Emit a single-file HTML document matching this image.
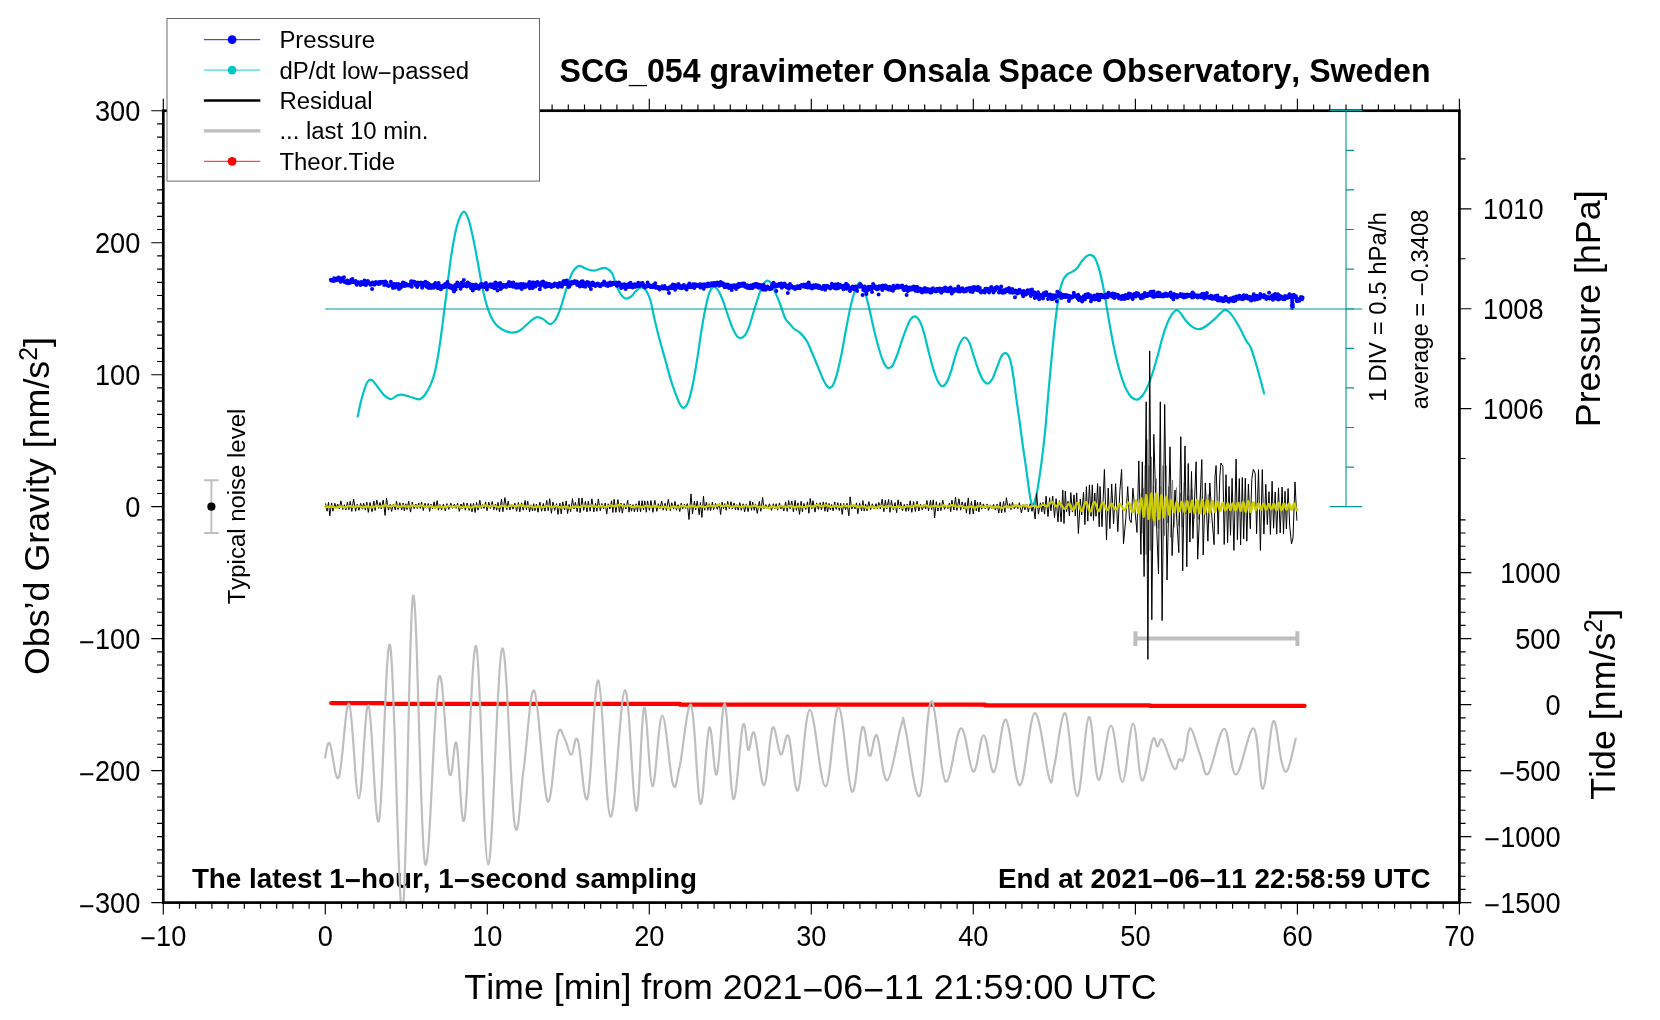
<!DOCTYPE html>
<html><head><meta charset="utf-8"><title>SCG_054 gravimeter</title>
<style>html,body{margin:0;padding:0;background:#fff}body{width:1660px;height:1020px;overflow:hidden}svg{display:block;will-change:transform}text{font-family:"Liberation Sans",sans-serif;fill:#000;font-kerning:none}</style>
</head><body>
<svg width="1660" height="1020" viewBox="0 0 1660 1020">
<rect width="1660" height="1020" fill="#fff"/>
<defs><clipPath id="pc"><rect x="163.3" y="110.7" width="1296.1" height="791.9"/></clipPath></defs>
<text x="191.9" y="887.8" font-size="27.8" font-weight="bold">The latest 1<tspan dy="2.22">−</tspan><tspan dy="-2.22">hour, 1</tspan><tspan dy="2.22">−</tspan><tspan dy="-2.22">second sampling</tspan></text>
<text x="1430.6" y="887.8" font-size="27.8" font-weight="bold" text-anchor="end">End at 2021<tspan dy="2.22">−</tspan><tspan dy="-2.22">06</tspan><tspan dy="2.22">−</tspan><tspan dy="-2.22">11 22:58:59 UTC</tspan></text>
<path d="M357.7,416.5C358.2,414.2 359.6,407.2 360.6,402.9C361.7,398.6 362.9,393.9 364,390.5C365.1,387.1 366.2,384 367.3,382.2C368.4,380.4 369.6,379.7 370.7,379.7C371.8,379.7 372.8,380.8 374.1,382.2C375.4,383.6 376.9,386.1 378.6,388.3C380.3,390.5 382.2,393.5 384.3,395.3C386.4,397.1 388.9,399 391,399.1C393.1,399.2 394.8,396.4 396.7,395.7C398.6,394.9 400.1,394.4 402.3,394.6C404.6,394.8 407.4,396 410.2,396.8C413,397.6 416.8,399.6 419.2,399.3C421.6,399 422.9,397.4 424.8,395C426.7,392.6 428.8,388.8 430.5,384.9C432.2,381 433.5,377.8 435,371.4C436.5,365 438,356.4 439.5,346.6C441,336.8 442.7,322.9 444,312.7C445.3,302.5 446.3,294.7 447.4,285.7C448.5,276.7 449.6,266.9 450.8,258.6C452,250.3 453.3,242.5 454.6,236.1C455.9,229.7 457.1,224.4 458.7,220.3C460.2,216.2 462.3,211.9 463.9,211.7C465.5,211.5 467,215.5 468.4,219.2C469.8,222.9 470.8,227.6 472.2,233.8C473.6,240 475.2,248.5 476.7,256.4C478.2,264.3 479.7,273.7 481.2,281.2C482.7,288.7 484.2,295.9 485.7,301.5C487.2,307.1 488.5,311.2 490.2,315C491.9,318.8 493.8,322.1 495.9,324.5C498,326.9 500,328.3 502.6,329.7C505.2,331.1 508.9,332.4 511.7,332.6C514.5,332.8 516.9,332.2 519.5,330.8C522.1,329.4 525.1,325.9 527.4,324C529.7,322.1 531.4,320.2 533.1,319.1C534.8,318 535.9,317.2 537.6,317.2C539.3,317.2 541.5,318.2 543.2,319.1C544.9,320.1 546.4,322.1 547.7,322.9C549,323.7 549.8,324.6 551.1,324C552.4,323.4 554.1,321.9 555.6,319.5C557.1,317.1 558.6,313.5 560.1,309.4C561.6,305.3 563.1,299.6 564.6,294.7C566.1,289.8 567.7,284.1 569.2,280C570.7,275.9 572,272.8 573.7,270.4C575.4,268 577.2,266.1 579.3,265.8C581.4,265.5 583.6,268 586.1,268.8C588.6,269.6 591.4,270.7 594,270.6C596.6,270.5 599.8,268.7 601.9,268.3C604,267.9 604.7,267.5 606.4,268.3C608.1,269.1 610.3,270.4 612,273.3C613.7,276.2 615,282.1 616.5,285.7C618,289.3 619.5,292.6 621,294.7C622.5,296.8 623.8,298.2 625.5,298.5C627.2,298.8 629.5,297.7 631.2,296.5C632.9,295.3 634,292.8 635.7,291.3C637.4,289.8 639.6,287.7 641.3,287.5C643,287.3 644.3,288.1 645.8,290.2C647.3,292.3 648.8,295.1 650.3,300C651.8,304.9 653.1,313.2 654.6,319.5C656.1,325.8 657.3,331.1 659,337.5C660.7,343.9 662.8,351 664.7,357.8C666.6,364.6 668.6,372.5 670.3,378.1C672,383.8 673.3,387.6 674.8,391.7C676.3,395.8 677.9,400.2 679.3,402.9C680.7,405.6 682.1,407.7 683.4,407.9C684.7,408.1 686,406.4 687.2,404.1C688.4,401.8 689.5,398.2 690.6,393.9C691.7,389.6 692.9,384.1 694,378.1C695.1,372.1 696.3,364.9 697.4,357.8C698.5,350.7 699.6,342.4 700.7,335.3C701.8,328.2 703,321 704.1,315C705.2,309 706.5,303.3 707.5,299.2C708.5,295.1 709.3,292.3 710.4,290.2C711.5,288.1 712.9,286.6 714.3,286.8C715.7,287 717.3,288.9 718.8,291.3C720.3,293.8 721.8,297.6 723.3,301.5C724.8,305.4 726.3,310.7 727.8,315C729.3,319.3 730.8,323.9 732.3,327.4C733.8,330.9 735.4,334.2 736.8,336C738.2,337.8 739.3,338.1 740.6,338C741.9,337.9 743.3,337.6 744.7,335.7C746.1,333.8 747.7,330.3 749.2,326.3C750.7,322.3 752.2,316.5 753.7,311.6C755.2,306.7 756.7,301.3 758.2,297C759.7,292.7 761.2,288.4 762.7,285.7C764.2,283 765.7,280.9 767.2,280.7C768.7,280.5 770.3,282.3 771.8,284.6C773.3,286.9 774.8,291.1 776.3,294.7C777.8,298.3 779.3,302.1 780.8,306C782.3,309.9 783.8,315.4 785.3,318.4C786.8,321.4 788.3,322.2 789.8,324C791.3,325.8 792.6,327.6 794.3,329C796,330.4 797.8,330.6 799.9,332.6C802,334.6 804.6,337.4 806.7,340.9C808.8,344.3 810.4,349 812.3,353.3C814.2,357.6 816.1,362.4 818,366.9C819.9,371.4 822.1,377.2 823.6,380.4C825.1,383.6 826,384.8 827,386C828,387.2 828.7,388 829.7,387.8C830.7,387.6 831.9,387.3 833.1,384.9C834.3,382.5 835.7,378.9 837.1,373.6C838.5,368.3 840.2,360.8 841.7,353.3C843.2,345.8 844.7,336.4 846.2,328.5C847.7,320.6 849.2,312.4 850.7,306C852.2,299.6 853.7,294.1 855.2,290.2C856.7,286.2 858.2,282.3 859.7,282.3C861.2,282.3 862.7,286.2 864.2,290.2C865.7,294.1 867.2,300 868.7,306C870.2,312 871.7,319.9 873.2,326.3C874.7,332.7 876.2,338.9 877.7,344.3C879.2,349.8 880.8,355.2 882.2,359C883.6,362.8 885.2,365.4 886.3,366.9C887.4,368.4 888,368.2 889,368C890,367.8 891.1,367.8 892.4,365.7C893.7,363.6 895.4,359.5 896.9,355.6C898.4,351.7 899.9,346.4 901.4,342.1C902.9,337.8 904.4,333.5 905.9,329.7C907.4,325.9 908.9,321.7 910.4,319.5C911.9,317.3 913.4,316.1 914.9,316.3C916.4,316.5 917.9,317.8 919.4,320.6C920.9,323.4 922.5,327.9 924,333C925.5,338.1 927,345.3 928.5,351.1C930,356.9 931.5,363.1 933,368C934.5,372.9 936,377.4 937.5,380.4C939,383.4 940.5,385.8 942,386.2C943.5,386.6 945,385.1 946.5,382.6C948,380.1 949.5,375.9 951,371.4C952.5,366.9 954,360.3 955.5,355.6C957,350.9 958.5,346.2 960,343.2C961.5,340.2 963,337.7 964.5,337.5C966,337.3 967.6,339.1 969.1,342.1C970.6,345.1 972.1,351.1 973.6,355.6C975.1,360.1 976.6,365.2 978.1,369.1C979.6,373.1 981,376.9 982.6,379.3C984.2,381.7 985.9,383.7 987.5,383.6C989.1,383.5 990.8,381.5 992.4,378.8C994,376.1 995.4,371.2 996.9,367.5C998.4,363.8 1000,358.7 1001.4,356.3C1002.8,353.9 1004.2,352.9 1005.5,353.1C1006.8,353.3 1008.1,354.2 1009.3,357.4C1010.5,360.5 1011.6,365.4 1012.7,372C1013.8,378.6 1015,388.9 1016.1,396.9C1017.2,404.9 1018.3,411.9 1019.4,420C1020.5,428.1 1021.8,438.4 1022.8,445.5C1023.8,452.6 1024.1,454.2 1025.3,462.4C1026.5,470.6 1028.7,487.9 1029.7,494.7C1030.7,501.5 1031,501.1 1031.5,503C1032,504.9 1032.3,506 1032.8,506C1033.2,506 1033.5,505.4 1034.2,503C1034.9,500.6 1035.9,498.6 1037.1,491.8C1038.3,485 1040.1,473 1041.5,462.4C1042.9,451.8 1044.2,440.8 1045.4,428.4C1046.6,416 1047.7,400.6 1048.8,387.8C1049.9,375 1051.1,363.1 1052.2,351.8C1053.3,340.5 1054.4,329.6 1055.5,320.2C1056.6,310.8 1057.8,301.8 1058.9,295.4C1060,289 1061,285.4 1062.3,281.9C1063.6,278.4 1065.1,276.3 1066.8,274.6C1068.5,272.9 1070.7,272.8 1072.4,271.7C1074.1,270.6 1075.5,270 1077,268.3C1078.5,266.6 1080,263.6 1081.5,261.6C1083,259.7 1084.5,257.7 1086,256.6C1087.5,255.5 1089,254.5 1090.5,254.8C1092,255.1 1093.5,255.6 1095,258.2C1096.5,260.8 1098,265.2 1099.5,270.6C1101,276.1 1102.5,283 1104,290.9C1105.5,298.8 1107,309.3 1108.5,317.9C1110,326.5 1111.5,335.2 1113,342.7C1114.5,350.2 1116,357 1117.5,363C1119,369 1120.6,374.3 1122.1,378.8C1123.6,383.3 1125.1,387.1 1126.6,390.1C1128.1,393.1 1129.4,395.3 1131.1,396.9C1132.8,398.5 1134.8,399.8 1136.7,399.6C1138.6,399.4 1140.4,398 1142.3,395.7C1144.2,393.4 1146.1,389.9 1148,385.6C1149.9,381.3 1151.9,375.1 1153.6,369.8C1155.3,364.5 1156.6,359.4 1158.1,354C1159.6,348.6 1161.1,342.2 1162.6,337.1C1164.1,332 1165.6,327.4 1167.1,323.6C1168.6,319.9 1170.1,316.9 1171.7,314.6C1173.3,312.3 1175.1,310.2 1176.6,310C1178.1,309.8 1179.1,311.5 1180.7,313.4C1182.3,315.3 1184.2,319 1186.3,321.3C1188.4,323.6 1190.9,326.1 1193.1,327.4C1195.2,328.7 1197.1,329.3 1199.2,329.2C1201.3,329.1 1203,328.2 1205.5,326.5C1208,324.8 1211.9,321.5 1214.5,319.1C1217.1,316.7 1219.4,313.8 1221.3,312.3C1223.2,310.8 1224.1,309.6 1225.8,310C1227.5,310.4 1229.2,311.8 1231.4,314.6C1233.7,317.4 1236.8,322.7 1239.3,327C1241.8,331.3 1244.2,337.1 1246.1,340.5C1248,343.9 1249.1,343.8 1250.6,347.2C1252.1,350.6 1253.6,355.9 1255.1,360.8C1256.6,365.7 1258.1,371.2 1259.6,376.6C1261.1,382.1 1263.3,390.7 1264.1,393.5" fill="none" stroke="#00c3c3" stroke-width="2.2" stroke-linejoin="round" stroke-linecap="round"/>
<path d="M330.8,279.8h0M331.4,280.4h0M331.9,280.7h0M332.5,280.2h0M333,280.3h0M333.6,281.1h0M334.1,278.3h0M334.7,280.6h0M335.2,280.5h0M335.8,279.3h0M336.3,278.7h0M336.9,280h0M337.4,278.4h0M338,278.5h0M338.5,277.6h0M339.1,278.5h0M339.6,278.4h0M340.2,280.9h0M340.7,281.7h0M341.3,278.3h0M341.8,279.9h0M342.4,279.4h0M342.9,278.5h0M343.5,280.8h0M344,277.2h0M344.6,281.9h0M345.1,281.6h0M345.7,282h0M346.2,282.8h0M346.8,281.9h0M347.3,280.6h0M347.9,280.9h0M348.4,283.2h0M349,282.1h0M349.5,283h0M350.1,281.7h0M350.6,282.5h0M351.2,279.7h0M351.7,280.8h0M352.3,278.9h0M352.8,282h0M353.4,280.9h0M353.9,282.1h0M354.5,281.5h0M355,282.6h0M355.6,281.1h0M356.1,283.6h0M356.7,284.8h0M357.2,282.7h0M357.8,283.5h0M358.3,282.2h0M358.9,282.8h0M359.4,283h0M360,283.6h0M360.5,285h0M361.1,282.1h0M361.6,284.2h0M362.2,284h0M362.7,282.4h0M363.3,283.6h0M363.8,284.2h0M364.4,280.4h0M364.9,283.1h0M365.5,284.9h0M366,285h0M366.6,283.2h0M367.1,282.1h0M367.7,280.9h0M368.2,281.8h0M368.8,282.2h0M369.3,283.5h0M369.9,283.6h0M370.4,284.8h0M371,283.6h0M371.5,284.5h0M372.1,289h0M372.6,282.6h0M373.2,284h0M373.7,283.9h0M374.3,284.7h0M374.8,283.1h0M375.4,283.6h0M375.9,282.1h0M376.5,282.3h0M377,283.1h0M377.6,283.8h0M378.1,283.3h0M378.7,284.1h0M379.2,282.1h0M379.8,283.8h0M380.3,282.1h0M380.9,282h0M381.4,282.2h0M382,282.2h0M382.5,281.8h0M383.1,282.6h0M383.6,282.9h0M384.2,285h0M384.7,284.5h0M385.3,281.4h0M385.8,282h0M386.4,282.4h0M386.9,284.6h0M387.5,285.5h0M388,285.5h0M388.6,285.9h0M389.1,285.5h0M389.7,285.6h0M390.2,285h0M390.8,281.8h0M391.3,285.4h0M391.9,285.5h0M392.4,284.1h0M393,288.1h0M393.5,285h0M394.1,283.9h0M394.6,284.9h0M395.2,287.4h0M395.7,285.1h0M396.3,284h0M396.8,286.4h0M397.4,285.8h0M397.9,286.3h0M398.5,284.1h0M399,289h0M399.6,286h0M400.1,287.2h0M400.7,287.8h0M401.2,285.3h0M401.8,284.3h0M402.3,285.9h0M402.9,282.6h0M403.4,284.1h0M404,282.9h0M404.5,285.9h0M405.1,283.5h0M405.6,285.7h0M406.2,284.3h0M406.7,284.3h0M407.3,284.7h0M407.8,285.3h0M408.4,284.9h0M408.9,285.3h0M409.5,285.3h0M410,285.8h0M410.6,283.7h0M411.1,281.3h0M411.7,286.8h0M412.2,281.6h0M412.8,281.7h0M413.3,281.7h0M413.9,283.3h0M414.4,281.7h0M415,283.4h0M415.5,285h0M416.1,285h0M416.6,283.3h0M417.2,286.9h0M417.7,282.4h0M418.3,283.6h0M418.8,284.6h0M419.4,283.3h0M419.9,284.5h0M420.5,284.4h0M421,282.5h0M421.6,284.9h0M422.1,287.8h0M422.7,286h0M423.2,283h0M423.8,284h0M424.3,283.5h0M424.9,284.2h0M425.4,281.8h0M426,285.8h0M426.5,286.8h0M427.1,283.6h0M427.6,283h0M428.2,283.5h0M428.7,288h0M429.3,284.5h0M429.8,285.1h0M430.4,285.1h0M430.9,287.9h0M431.5,285.5h0M432,287.8h0M432.6,285.7h0M433.1,285.1h0M433.7,287.8h0M434.2,286.4h0M434.8,286.5h0M435.3,282.9h0M435.9,284.7h0M436.4,286.7h0M437,284.2h0M437.5,288h0M438.1,286.8h0M438.6,282.9h0M439.2,285.3h0M439.7,286.5h0M440.3,289h0M440.8,289.2h0M441.4,286.4h0M441.9,287.1h0M442.5,287.4h0M443,285.5h0M443.6,287.2h0M444.1,286.6h0M444.7,286.3h0M445.2,283.9h0M445.8,286.7h0M446.3,285.8h0M446.9,284.7h0M447.4,282.1h0M448,284.8h0M448.5,284.6h0M449.1,285.9h0M449.6,287.6h0M450.2,286.2h0M450.7,285.4h0M451.3,288.1h0M451.8,287h0M452.4,288.7h0M452.9,287.1h0M453.5,286.6h0M454,291.5h0M454.6,286.5h0M455.1,285.1h0M455.7,289.3h0M456.2,286.2h0M456.8,284.5h0M457.3,282.6h0M457.9,285.9h0M458.4,284.8h0M459,284h0M459.5,285.7h0M460.1,286.8h0M460.6,288.7h0M461.2,286.6h0M461.7,282.4h0M462.3,285.5h0M462.8,285.5h0M463.4,286.1h0M463.9,279.9h0M464.5,285.1h0M465,284.1h0M465.6,285.1h0M466.1,284.5h0M466.7,286.5h0M467.2,284.1h0M467.8,282.6h0M468.3,285.8h0M468.9,285.2h0M469.4,285.5h0M470,284h0M470.5,286.2h0M471.1,288.2h0M471.6,286.7h0M472.2,284.8h0M472.7,290.6h0M473.3,285h0M473.8,286.3h0M474.4,286.3h0M474.9,288.4h0M475.5,286.8h0M476,284.5h0M476.6,285.7h0M477.1,287.6h0M477.7,288.1h0M478.2,286.2h0M478.8,288.7h0M479.3,285.7h0M479.9,287h0M480.4,286.1h0M481,283.9h0M481.5,284.1h0M482.1,284.9h0M482.6,286.8h0M483.2,286.3h0M483.7,284.6h0M484.3,287h0M484.8,287.1h0M485.4,285h0M485.9,283.1h0M486.5,286h0M487,289.4h0M487.6,285.9h0M488.1,286.3h0M488.7,285.9h0M489.2,285.2h0M489.8,286.6h0M490.3,284.2h0M490.9,285.8h0M491.4,286.9h0M492,284.4h0M492.5,287h0M493.1,285.6h0M493.6,284.5h0M494.2,288.3h0M494.7,284.4h0M495.3,282.6h0M495.8,288.1h0M496.4,287.1h0M496.9,285.8h0M497.5,290.4h0M498,283.6h0M498.6,284.5h0M499.1,286.4h0M499.7,285.5h0M500.2,282.9h0M500.8,289h0M501.3,286.5h0M501.9,287.4h0M502.4,284.9h0M503,286.9h0M503.5,285h0M504.1,286.1h0M504.6,286.1h0M505.2,285.3h0M505.7,285.1h0M506.3,287.1h0M506.8,284.7h0M507.4,284.4h0M507.9,285h0M508.5,283.2h0M509,282.1h0M509.6,286h0M510.1,286h0M510.7,285.1h0M511.2,284h0M511.8,283h0M512.3,284.1h0M512.9,286.8h0M513.4,282.4h0M514,285.1h0M514.5,285.1h0M515.1,285.4h0M515.6,284.8h0M516.2,287.7h0M516.7,284.3h0M517.3,285.9h0M517.8,284.8h0M518.4,284.5h0M518.9,287.6h0M519.5,284.6h0M520,284.2h0M520.6,285h0M521.1,284.1h0M521.7,288.9h0M522.2,286.2h0M522.8,286.7h0M523.3,284.1h0M523.9,285.4h0M524.4,285.6h0M525,287.2h0M525.5,284.5h0M526.1,286.7h0M526.6,285.3h0M527.2,285.8h0M527.7,284.3h0M528.3,284.6h0M528.8,285.3h0M529.4,282h0M529.9,288.3h0M530.5,283.1h0M531,283.7h0M531.6,285.7h0M532.1,282.4h0M532.7,288h0M533.2,283.7h0M533.8,282.6h0M534.3,283.1h0M534.9,284.3h0M535.4,286.6h0M536,282.7h0M536.5,284.2h0M537.1,284.4h0M537.6,282.1h0M538.2,283.1h0M538.7,284.3h0M539.3,285.3h0M539.8,289.2h0M540.4,286.1h0M540.9,282.9h0M541.5,284.8h0M542,282.1h0M542.6,284h0M543.1,281.5h0M543.7,282.3h0M544.2,285.9h0M544.8,284h0M545.3,287.1h0M545.9,285.5h0M546.4,283.3h0M547,284.5h0M547.5,286.2h0M548.1,284.2h0M548.6,283.9h0M549.2,286.1h0M549.7,283.9h0M550.3,284.4h0M550.8,286.4h0M551.4,287.1h0M551.9,286.4h0M552.5,284.8h0M553,286h0M553.6,285.9h0M554.1,286.1h0M554.7,283.5h0M555.2,284.7h0M555.8,285.2h0M556.3,285h0M556.9,284.4h0M557.4,284h0M557.9,287h0M558.5,286.1h0M559,285.9h0M559.6,282.9h0M560.1,283.6h0M560.7,285.5h0M561.2,283.8h0M561.8,286.7h0M562.3,285.2h0M562.9,283.3h0M563.4,281.2h0M564,283.8h0M564.5,281.1h0M565.1,283.2h0M565.6,283.9h0M566.2,283.9h0M566.7,280.6h0M567.3,284.1h0M567.8,283.1h0M568.4,287.1h0M568.9,286.8h0M569.5,286.3h0M570,282.4h0M570.6,283.3h0M571.1,284h0M571.7,282.1h0M572.2,282.6h0M572.8,282.6h0M573.3,283.2h0M573.9,282.6h0M574.4,281.2h0M575,281.2h0M575.5,282.3h0M576.1,283h0M576.6,281.6h0M577.2,285.1h0M577.7,282.6h0M578.3,283.5h0M578.8,282.7h0M579.4,284.1h0M579.9,286.5h0M580.5,284.3h0M581,283.2h0M581.6,281.4h0M582.1,284.1h0M582.7,281.3h0M583.2,286.2h0M583.8,284.4h0M584.3,284.7h0M584.9,283.3h0M585.4,286.7h0M586,284.1h0M586.5,284.6h0M587.1,281.9h0M587.6,284h0M588.2,283.9h0M588.7,282.4h0M589.3,286h0M589.8,283.6h0M590.4,285.8h0M590.9,288.9h0M591.5,285.2h0M592,284h0M592.6,282.6h0M593.1,283.5h0M593.7,283.3h0M594.2,285.3h0M594.8,284.9h0M595.3,286h0M595.9,284.4h0M596.4,284.8h0M597,285.3h0M597.5,283.4h0M598.1,285.1h0M598.6,284.6h0M599.2,284.3h0M599.7,286h0M600.3,286.2h0M600.8,285.2h0M601.4,285h0M601.9,284.8h0M602.5,283.6h0M603,284.7h0M603.6,284.5h0M604.1,281.6h0M604.7,284.7h0M605.2,284.8h0M605.8,283.8h0M606.3,285.4h0M606.9,283.5h0M607.4,284.7h0M608,286.1h0M608.5,283.5h0M609.1,283.9h0M609.6,285.1h0M610.2,282.6h0M610.7,284.9h0M611.3,284.2h0M611.8,284.7h0M612.4,282.9h0M612.9,283.7h0M613.5,282.8h0M614,283.3h0M614.6,284h0M615.1,283.9h0M615.7,283.3h0M616.2,282.6h0M616.8,285.8h0M617.3,285.7h0M617.9,284.4h0M618.4,285h0M619,282.6h0M619.5,284.6h0M620.1,284.2h0M620.6,285.7h0M621.2,288.1h0M621.7,284.6h0M622.3,287.3h0M622.8,286.7h0M623.4,285.5h0M623.9,284.2h0M624.5,285.5h0M625,284.4h0M625.6,289h0M626.1,285.7h0M626.7,285.2h0M627.2,284.7h0M627.8,285.3h0M628.3,284.2h0M628.9,287.1h0M629.4,283.4h0M630,285.7h0M630.5,282.8h0M631.1,286.9h0M631.6,284.6h0M632.2,286.1h0M632.7,287.4h0M633.3,286.8h0M633.8,284.6h0M634.4,286.3h0M634.9,284.2h0M635.5,286.8h0M636,285.2h0M636.6,284.8h0M637.1,286.3h0M637.7,285.2h0M638.2,282.8h0M638.8,284h0M639.3,286.2h0M639.9,283.9h0M640.4,283.4h0M641,283.3h0M641.5,283.9h0M642.1,285.1h0M642.6,283h0M643.2,284.7h0M643.7,286.6h0M644.3,287h0M644.8,287.5h0M645.4,285.8h0M645.9,286.5h0M646.5,285.7h0M647,286.5h0M647.6,282.5h0M648.1,285.9h0M648.7,286h0M649.2,285h0M649.8,285.8h0M650.3,286.1h0M650.9,287.3h0M651.4,285.7h0M652,286.1h0M652.5,286h0M653.1,287.1h0M653.6,285.1h0M654.2,284.5h0M654.7,286.5h0M655.3,283.3h0M655.8,287.7h0M656.4,287h0M656.9,287.6h0M657.5,287.1h0M658,287.1h0M658.6,288.4h0M659.1,287.3h0M659.7,289.4h0M660.2,287.7h0M660.8,288.3h0M661.3,287.3h0M661.9,287.3h0M662.4,286.2h0M663,287.6h0M663.5,288.5h0M664.1,287.5h0M664.6,285.9h0M665.2,288h0M665.7,288.4h0M666.3,287.7h0M666.8,288h0M667.4,288.8h0M667.9,289.3h0M668.5,288.3h0M669,293h0M669.6,287.2h0M670.1,286.9h0M670.7,288h0M671.2,286.2h0M671.8,288.3h0M672.3,288h0M672.9,284.4h0M673.4,287.1h0M674,287h0M674.5,284.9h0M675.1,289.8h0M675.6,285.6h0M676.2,287.9h0M676.7,286.9h0M677.3,286.3h0M677.8,285.9h0M678.4,283.9h0M678.9,284.8h0M679.5,287.8h0M680,286.2h0M680.6,285.9h0M681.1,286.8h0M681.7,288.3h0M682.2,287.6h0M682.8,287.1h0M683.3,285.8h0M683.9,285h0M684.4,287.8h0M685,287.2h0M685.5,288.2h0M686.1,288.4h0M686.6,289.4h0M687.2,287.7h0M687.7,286h0M688.3,285.1h0M688.8,287.1h0M689.4,283.5h0M689.9,285.9h0M690.5,286.4h0M691,287.3h0M691.6,286.1h0M692.1,286h0M692.7,286.3h0M693.2,284.3h0M693.8,285.9h0M694.3,287.9h0M694.9,284.2h0M695.4,286.6h0M696,285.1h0M696.5,284.8h0M697.1,285.4h0M697.6,285.6h0M698.2,286h0M698.7,285.8h0M699.3,286.6h0M699.8,284.2h0M700.4,287.5h0M700.9,284.4h0M701.5,285.8h0M702,284.4h0M702.6,285.2h0M703.1,286.8h0M703.7,288.7h0M704.2,284.3h0M704.8,284.4h0M705.3,286h0M705.9,286h0M706.4,284.7h0M707,286.6h0M707.5,283.7h0M708.1,283.5h0M708.6,285.2h0M709.2,284.8h0M709.7,286h0M710.3,284.8h0M710.8,285.3h0M711.4,283.2h0M711.9,284.1h0M712.5,284.4h0M713,285.3h0M713.6,283h0M714.1,283.9h0M714.7,283h0M715.2,285.4h0M715.8,283.5h0M716.3,283.9h0M716.9,283.1h0M717.4,282.4h0M718,283.5h0M718.5,284.4h0M719.1,285.7h0M719.6,283.2h0M720.2,284h0M720.7,281.9h0M721.3,284.4h0M721.8,285h0M722.4,285.1h0M722.9,283.2h0M723.5,284h0M724,286.1h0M724.6,287.3h0M725.1,286.1h0M725.7,284.4h0M726.2,286.3h0M726.8,286.8h0M727.3,285.5h0M727.9,284.6h0M728.4,287.6h0M729,288h0M729.5,286.6h0M730.1,287.3h0M730.6,287.2h0M731.2,285.6h0M731.7,289.9h0M732.3,287.6h0M732.8,286.8h0M733.4,285.4h0M733.9,286.3h0M734.5,285.3h0M735,286.5h0M735.6,287.6h0M736.1,288.9h0M736.7,287.8h0M737.2,285.1h0M737.8,285.9h0M738.3,286.9h0M738.9,283.7h0M739.4,285.3h0M740,286.2h0M740.5,284.1h0M741.1,285h0M741.6,285.4h0M742.2,285.7h0M742.7,283.6h0M743.3,284.2h0M743.8,284.4h0M744.4,283.5h0M744.9,286.8h0M745.5,285.3h0M746,285.2h0M746.6,287.3h0M747.1,285.3h0M747.7,288.1h0M748.2,286h0M748.8,285.8h0M749.3,286.9h0M749.9,286.7h0M750.4,288.2h0M751,285.3h0M751.5,286.7h0M752.1,286.4h0M752.6,288h0M753.2,287.3h0M753.7,284.6h0M754.3,286.6h0M754.8,285.1h0M755.4,284h0M755.9,285h0M756.5,286.7h0M757,284h0M757.6,286.5h0M758.1,287.4h0M758.7,287.7h0M759.2,284.8h0M759.8,287.6h0M760.3,286.3h0M760.9,285.2h0M761.4,285.3h0M762,287.3h0M762.5,289.6h0M763.1,288.4h0M763.6,284.8h0M764.2,289.7h0M764.7,287.7h0M765.3,287h0M765.8,289.7h0M766.4,287.5h0M766.9,287.2h0M767.5,286.6h0M768,287.7h0M768.6,288.3h0M769.1,287.9h0M769.7,289.3h0M770.2,288.6h0M770.8,287.6h0M771.3,288.8h0M771.9,285.4h0M772.4,284.5h0M773,283.5h0M773.5,282.8h0M774.1,286.4h0M774.6,286.1h0M775.2,284.2h0M775.7,286.7h0M776.3,291h0M776.8,285.1h0M777.4,286.1h0M777.9,285.9h0M778.5,285.8h0M779,284.1h0M779.6,284.6h0M780.1,285.8h0M780.7,284.9h0M781.2,283.4h0M781.8,287.8h0M782.3,284.7h0M782.9,285.1h0M783.4,285.3h0M784,286.2h0M784.5,283.5h0M785.1,284.5h0M785.6,286h0M786.2,285.6h0M786.7,287.4h0M787.3,286.5h0M787.8,293.1h0M788.4,285.3h0M788.9,288.7h0M789.5,287h0M790,283.9h0M790.6,287.2h0M791.1,285.4h0M791.7,286.9h0M792.2,286.8h0M792.8,287.8h0M793.3,287.8h0M793.9,287h0M794.4,287.7h0M795,288.9h0M795.5,288.1h0M796.1,287.8h0M796.6,288.3h0M797.2,286.2h0M797.7,287.2h0M798.3,286.3h0M798.8,287h0M799.4,288h0M799.9,288.2h0M800.5,285.8h0M801,286.1h0M801.6,285h0M802.1,285.7h0M802.7,285.7h0M803.2,286.6h0M803.8,284.6h0M804.3,285.1h0M804.9,285.8h0M805.4,286.9h0M806,286.2h0M806.5,284.4h0M807.1,285.3h0M807.6,287.4h0M808.2,285.1h0M808.7,282.6h0M809.3,286.9h0M809.8,284.9h0M810.4,285.4h0M810.9,287.9h0M811.5,286h0M812,288.5h0M812.6,286.2h0M813.1,286.9h0M813.7,285.3h0M814.2,285.8h0M814.8,287.5h0M815.3,286h0M815.9,284.9h0M816.4,286.5h0M817,287.3h0M817.5,286.7h0M818.1,285.6h0M818.6,288h0M819.2,285.9h0M819.7,287.1h0M820.3,287.7h0M820.8,287.9h0M821.4,288.6h0M821.9,289.1h0M822.5,287.6h0M823,287h0M823.6,286h0M824.1,288.2h0M824.7,285.9h0M825.2,289.8h0M825.8,286.9h0M826.3,286.1h0M826.9,287.4h0M827.4,286.1h0M828,287.3h0M828.5,287.2h0M829.1,287.1h0M829.6,287.1h0M830.2,288.4h0M830.7,286.4h0M831.3,286.4h0M831.8,283.7h0M832.4,284.4h0M832.9,287h0M833.5,287.4h0M834,287.5h0M834.6,288h0M835.1,284.5h0M835.7,288.4h0M836.2,286h0M836.8,285.8h0M837.3,288.4h0M837.9,284h0M838.4,287.9h0M839,286.7h0M839.5,286.6h0M840.1,285.1h0M840.6,285.2h0M841.2,287.2h0M841.7,287.1h0M842.3,285.9h0M842.8,287.8h0M843.4,289.2h0M843.9,286.9h0M844.5,285.5h0M845,285.9h0M845.6,284.8h0M846.1,283.7h0M846.7,288.7h0M847.2,287.3h0M847.8,284.9h0M848.3,287.1h0M848.9,287.4h0M849.4,288.3h0M850,291h0M850.5,288.9h0M851.1,288h0M851.6,287.4h0M852.2,287.6h0M852.7,286.4h0M853.3,287.5h0M853.8,289.2h0M854.4,288.1h0M854.9,289.1h0M855.5,286.6h0M856,288.6h0M856.6,289.6h0M857.1,291h0M857.7,286.5h0M858.2,286.4h0M858.8,286.4h0M859.3,286.7h0M859.9,284.7h0M860.4,284.3h0M861,285.3h0M861.5,285.8h0M862.1,286.9h0M862.6,295h0M863.2,290.1h0M863.7,290.3h0M864.3,290.4h0M864.8,286.4h0M865.4,291.1h0M865.9,289.6h0M866.5,294.1h0M867,290.8h0M867.6,288.1h0M868.1,290.1h0M868.7,286.7h0M869.2,289.1h0M869.8,288.4h0M870.3,286.8h0M870.9,289.3h0M871.4,289.2h0M872,291.9h0M872.5,286.6h0M873.1,284h0M873.6,286.1h0M874.2,288.1h0M874.7,287.1h0M875.3,286.4h0M875.8,286.4h0M876.4,287.4h0M876.9,289.2h0M877.5,287.4h0M878,289.1h0M878.6,294.4h0M879.1,286.2h0M879.7,287.7h0M880.2,286.5h0M880.8,288.4h0M881.3,286.2h0M881.9,286.8h0M882.4,289.9h0M883,285.5h0M883.5,287.9h0M884.1,286.5h0M884.6,286.1h0M885.2,286h0M885.7,285.4h0M886.3,288.6h0M886.8,287.8h0M887.4,289h0M887.9,287h0M888.5,289.5h0M889,287.3h0M889.6,286.7h0M890.1,287.4h0M890.7,289.8h0M891.2,288.6h0M891.8,288.1h0M892.3,287.2h0M892.9,290.7h0M893.4,285.7h0M894,288.1h0M894.5,287.4h0M895.1,288.2h0M895.6,287.4h0M896.2,287.3h0M896.7,286.3h0M897.3,285.6h0M897.8,287.3h0M898.4,287.7h0M898.9,286.1h0M899.5,286.3h0M900,286.3h0M900.6,287h0M901.1,287h0M901.7,285.9h0M902.2,285.6h0M902.8,286.6h0M903.3,289.3h0M903.9,290h0M904.4,290.1h0M905,289.2h0M905.5,289.5h0M906.1,286.6h0M906.6,295h0M907.2,289.6h0M907.7,291.1h0M908.3,288h0M908.8,290.3h0M909.4,287.4h0M909.9,289.2h0M910.5,288.5h0M911,289.5h0M911.6,287.5h0M912.1,289.6h0M912.7,287.4h0M913.2,287h0M913.8,286.6h0M914.3,288.2h0M914.9,289.7h0M915.4,290.8h0M916,289.2h0M916.5,288h0M917.1,286.8h0M917.6,291.2h0M918.2,288.6h0M918.7,290.9h0M919.3,290h0M919.8,288.5h0M920.4,290.8h0M920.9,289.3h0M921.5,289.2h0M922,292.6h0M922.6,289.6h0M923.1,290.4h0M923.7,291.2h0M924.2,289.5h0M924.8,288.1h0M925.3,291.7h0M925.9,289.3h0M926.4,290.5h0M927,289h0M927.5,291.6h0M928.1,289.2h0M928.6,291.1h0M929.2,289.6h0M929.7,291.2h0M930.3,292.6h0M930.8,290.7h0M931.4,292.4h0M931.9,289.1h0M932.5,289.7h0M933,288.3h0M933.6,290.7h0M934.1,289.6h0M934.7,290.8h0M935.2,290.6h0M935.8,291.6h0M936.3,289.2h0M936.9,288.8h0M937.4,288.9h0M938,290.7h0M938.5,289.8h0M939.1,289.9h0M939.6,288.5h0M940.2,290.9h0M940.7,289h0M941.3,292.8h0M941.8,290.8h0M942.4,289.9h0M942.9,291.3h0M943.5,288.4h0M944,290.3h0M944.6,290h0M945.1,287.5h0M945.7,288.5h0M946.2,291.1h0M946.8,290.9h0M947.3,288.4h0M947.9,290.8h0M948.4,291.3h0M949,290.9h0M949.5,290h0M950.1,288.1h0M950.6,287.5h0M951.2,291h0M951.7,293.4h0M952.3,289.7h0M952.8,290.1h0M953.4,289.4h0M953.9,291.5h0M954.5,289.9h0M955,288.9h0M955.6,289.8h0M956.1,289.6h0M956.7,290.3h0M957.2,289.5h0M957.8,291.3h0M958.3,286.6h0M958.9,289.6h0M959.4,288.5h0M960,291.5h0M960.5,290.2h0M961.1,290.4h0M961.6,290.2h0M962.2,288.3h0M962.7,290.7h0M963.3,290.2h0M963.8,291.4h0M964.4,289.4h0M964.9,290.2h0M965.5,289.8h0M966,291.3h0M966.6,288.8h0M967.1,288.5h0M967.7,289.6h0M968.2,289.5h0M968.8,289.3h0M969.3,288.1h0M969.9,289h0M970.4,291.6h0M971,290.8h0M971.5,289.7h0M972.1,287.6h0M972.6,292h0M973.2,288.1h0M973.7,289.8h0M974.3,286.9h0M974.8,289.7h0M975.4,288.9h0M975.9,289.1h0M976.5,287.5h0M977,288.4h0M977.6,290.2h0M978.1,287h0M978.7,289.2h0M979.2,290.4h0M979.8,288h0M980.3,291.7h0M980.9,292.6h0M981.4,291.1h0M982,292.1h0M982.5,291h0M983.1,291.2h0M983.6,291.1h0M984.2,291.7h0M984.7,292.6h0M985.3,288.7h0M985.8,290.9h0M986.4,289.9h0M986.9,288.7h0M987.5,289.5h0M988,289.3h0M988.6,291.5h0M989.1,292.6h0M989.7,290.7h0M990.2,288.3h0M990.8,289.8h0M991.3,287h0M991.9,287.4h0M992.4,289.5h0M993,291.1h0M993.5,292.5h0M994.1,289.2h0M994.6,290.7h0M995.2,290.3h0M995.7,287.8h0M996.3,288.7h0M996.8,287.1h0M997.4,287.3h0M997.9,288.5h0M998.5,288.8h0M999,292.5h0M999.6,290h0M1000.1,288.6h0M1000.7,291.1h0M1001.2,286.6h0M1001.8,290.9h0M1002.3,292.7h0M1002.9,290.9h0M1003.4,290.2h0M1004,291.2h0M1004.5,292.5h0M1005.1,291.9h0M1005.6,289.7h0M1006.2,289.3h0M1006.7,290.6h0M1007.3,291h0M1007.8,289h0M1008.4,290h0M1008.9,288h0M1009.5,291.3h0M1010,292.6h0M1010.6,291.8h0M1011.1,291.2h0M1011.7,291.2h0M1012.2,289h0M1012.8,292.8h0M1013.3,292.5h0M1013.9,291.3h0M1014.4,291.2h0M1015,297.3h0M1015.5,290.4h0M1016.1,292.6h0M1016.6,292.2h0M1017.2,293.4h0M1017.7,291.1h0M1018.3,293h0M1018.8,291.8h0M1019.4,289.8h0M1019.9,291.9h0M1020.5,291.1h0M1021,292.5h0M1021.6,292h0M1022.1,291.8h0M1022.7,295.1h0M1023.2,296.3h0M1023.8,291.1h0M1024.3,291.8h0M1024.9,294.1h0M1025.4,291.9h0M1026,294.6h0M1026.5,293.3h0M1027.1,293.7h0M1027.6,290.2h0M1028.2,293.3h0M1028.7,292.2h0M1029.3,290.9h0M1029.8,290.3h0M1030.4,291.2h0M1030.9,296h0M1031.5,293h0M1032,289.5h0M1032.6,294.2h0M1033.1,292.4h0M1033.7,292.2h0M1034.2,292.3h0M1034.8,297.9h0M1035.3,295.9h0M1035.9,296.1h0M1036.4,293.7h0M1037,297.2h0M1037.5,292.9h0M1038.1,292.2h0M1038.6,293.9h0M1039.2,299.3h0M1039.7,295.2h0M1040.3,294.9h0M1040.8,296.3h0M1041.4,295.4h0M1041.9,297.5h0M1042.5,296h0M1043,298.4h0M1043.6,293.2h0M1044.1,295.8h0M1044.7,293.9h0M1045.2,295.5h0M1045.8,292.3h0M1046.3,292.3h0M1046.9,294.8h0M1047.4,294.4h0M1048,298.9h0M1048.5,295h0M1049.1,296.7h0M1049.6,295.9h0M1050.2,294.6h0M1050.7,296.3h0M1051.3,297.7h0M1051.8,299.2h0M1052.4,298.1h0M1052.9,295.3h0M1053.5,298.8h0M1054,296h0M1054.6,296.9h0M1055.1,295.3h0M1055.7,297.3h0M1056.2,295.9h0M1056.8,301.3h0M1057.3,291.7h0M1057.9,295.7h0M1058.4,292.8h0M1059,295.4h0M1059.5,296.3h0M1060.1,293.6h0M1060.6,293.4h0M1061.2,298.1h0M1061.7,295.6h0M1062.3,295.5h0M1062.8,295.1h0M1063.4,297h0M1063.9,295.8h0M1064.5,295.1h0M1065,296.9h0M1065.6,295.1h0M1066.1,297h0M1066.7,296.5h0M1067.2,295.3h0M1067.8,296.8h0M1068.3,297.1h0M1068.9,300.9h0M1069.4,299.1h0M1070,295.9h0M1070.5,297.8h0M1071.1,297.4h0M1071.6,297.8h0M1072.2,297.4h0M1072.7,297h0M1073.3,295.7h0M1073.8,292.8h0M1074.4,295.7h0M1074.9,295.3h0M1075.5,296.3h0M1076,296.8h0M1076.6,296.4h0M1077.1,295.8h0M1077.7,298.6h0M1078.2,294.8h0M1078.8,299.9h0M1079.3,298.6h0M1079.9,298.2h0M1080.4,297.2h0M1081,298.8h0M1081.5,300h0M1082.1,301.4h0M1082.6,298.8h0M1083.2,298.2h0M1083.7,296.3h0M1084.3,297.1h0M1084.8,299.4h0M1085.4,294.7h0M1085.9,296.9h0M1086.5,294.8h0M1087,296.8h0M1087.6,297.2h0M1088.1,294h0M1088.7,295.4h0M1089.2,297.1h0M1089.8,295.7h0M1090.3,295.3h0M1090.9,301.3h0M1091.4,299.8h0M1092,296.8h0M1092.5,296.7h0M1093.1,296.5h0M1093.6,297.8h0M1094.2,295.6h0M1094.7,299.4h0M1095.3,298.5h0M1095.8,297h0M1096.4,298.9h0M1096.9,298h0M1097.5,294.6h0M1098,297h0M1098.6,300h0M1099.1,300.3h0M1099.7,297.2h0M1100.2,294.8h0M1100.8,297.4h0M1101.3,294.8h0M1101.9,296.1h0M1102.4,295.7h0M1103,295.5h0M1103.5,297.2h0M1104.1,297.6h0M1104.6,296.3h0M1105.2,296.5h0M1105.7,294.4h0M1106.3,296.4h0M1106.8,297.2h0M1107.4,296.6h0M1107.9,297.1h0M1108.5,292.8h0M1109,295.8h0M1109.6,295.4h0M1110.1,295.3h0M1110.7,295.1h0M1111.2,294.3h0M1111.8,295.6h0M1112.3,296.8h0M1112.9,293.4h0M1113.4,293.9h0M1114,297.8h0M1114.5,298.1h0M1115.1,294.1h0M1115.6,296.4h0M1116.2,295.1h0M1116.7,296.4h0M1117.3,296.6h0M1117.8,294.8h0M1118.4,295.9h0M1118.9,298.2h0M1119.5,297h0M1120,296.6h0M1120.6,297.9h0M1121.1,299h0M1121.7,297.6h0M1122.2,296.1h0M1122.8,298.7h0M1123.3,295.9h0M1123.9,296.3h0M1124.4,298.9h0M1125,296h0M1125.5,295.1h0M1126.1,298.2h0M1126.6,295.6h0M1127.2,296.5h0M1127.7,296.9h0M1128.3,298h0M1128.8,293.6h0M1129.4,297h0M1129.9,296.2h0M1130.5,294h0M1131,294.8h0M1131.6,295.4h0M1132.1,296.2h0M1132.7,299h0M1133.2,296.4h0M1133.8,295.5h0M1134.3,293.9h0M1134.9,295.9h0M1135.4,295.4h0M1136,296.5h0M1136.5,293.1h0M1137.1,295.3h0M1137.6,293.9h0M1138.2,293.4h0M1138.7,295h0M1139.3,295.2h0M1139.8,296.5h0M1140.4,295.6h0M1140.9,298.3h0M1141.5,298.3h0M1142,296.6h0M1142.6,294.9h0M1143.1,297.8h0M1143.7,296.3h0M1144.2,295.8h0M1144.8,293.1h0M1145.3,295.3h0M1145.9,296.2h0M1146.4,294.2h0M1147,295h0M1147.5,295.9h0M1148.1,294.6h0M1148.6,293.4h0M1149.2,293.2h0M1149.7,295h0M1150.3,293.9h0M1150.8,291.7h0M1151.4,295.5h0M1151.9,294.8h0M1152.5,294.5h0M1153,296.7h0M1153.6,291.4h0M1154.1,296.7h0M1154.7,294.6h0M1155.2,294.1h0M1155.8,296.2h0M1156.3,294h0M1156.9,296h0M1157.4,293.8h0M1158,292.5h0M1158.5,296.3h0M1159.1,295.5h0M1159.6,292.9h0M1160.2,296.2h0M1160.7,295.6h0M1161.3,296h0M1161.8,294.7h0M1162.4,296.3h0M1162.9,296.5h0M1163.5,294.5h0M1164,296.3h0M1164.6,295.7h0M1165.1,294.1h0M1165.7,293.6h0M1166.2,295.7h0M1166.8,294.2h0M1167.3,296h0M1167.9,294.2h0M1168.4,294.4h0M1169,295.5h0M1169.5,294.1h0M1170.1,295.6h0M1170.6,292.5h0M1171.2,296.5h0M1171.7,297.2h0M1172.3,295h0M1172.8,296.3h0M1173.4,299.3h0M1173.9,294.1h0M1174.5,296.6h0M1175,295.9h0M1175.6,296.1h0M1176.1,296h0M1176.7,295.1h0M1177.2,297.5h0M1177.8,295.8h0M1178.3,296.4h0M1178.9,295.4h0M1179.4,296h0M1180,295.9h0M1180.5,294.1h0M1181.1,295.2h0M1181.6,296.2h0M1182.2,296.4h0M1182.7,294.6h0M1183.3,296.3h0M1183.8,297.4h0M1184.4,296.4h0M1184.9,294.7h0M1185.5,296.2h0M1186,296.9h0M1186.6,295.3h0M1187.1,294.5h0M1187.7,296.3h0M1188.2,295.4h0M1188.8,295.3h0M1189.3,295.8h0M1189.9,295.7h0M1190.4,295.2h0M1191,294.2h0M1191.5,295.3h0M1192.1,297.4h0M1192.6,292.6h0M1193.2,297.2h0M1193.7,293.8h0M1194.3,295h0M1194.8,296.4h0M1195.4,295.6h0M1195.9,295.7h0M1196.5,295.2h0M1197,295.8h0M1197.6,297.5h0M1198.1,295.5h0M1198.7,297h0M1199.2,295.7h0M1199.8,295.4h0M1200.3,296.6h0M1200.9,295.9h0M1201.4,297.3h0M1202,294h0M1202.5,294.9h0M1203.1,295.7h0M1203.6,293.8h0M1204.2,298.6h0M1204.7,294.1h0M1205.3,296.7h0M1205.8,294.5h0M1206.4,297.2h0M1206.9,293h0M1207.5,296.4h0M1208,297.5h0M1208.6,297.3h0M1209.1,298.1h0M1209.7,296.9h0M1210.2,297h0M1210.8,295.7h0M1211.3,296.6h0M1211.9,298.8h0M1212.4,296.5h0M1213,298.7h0M1213.5,298.4h0M1214.1,298.1h0M1214.6,298.4h0M1215.2,296h0M1215.7,297.5h0M1216.3,299.2h0M1216.8,297.3h0M1217.4,295.4h0M1217.9,300.5h0M1218.5,297.7h0M1219,297.8h0M1219.6,300h0M1220.1,300.6h0M1220.7,298.2h0M1221.2,298.9h0M1221.8,299.9h0M1222.3,298.3h0M1222.9,301.2h0M1223.4,300.2h0M1224,301.1h0M1224.5,300.5h0M1225.1,298.7h0M1225.6,296.8h0M1226.2,298h0M1226.7,298.7h0M1227.3,300.4h0M1227.8,299.2h0M1228.4,300.9h0M1228.9,301.7h0M1229.5,299h0M1230,298.6h0M1230.6,298.4h0M1231.1,299.8h0M1231.7,299.7h0M1232.2,299.4h0M1232.8,301.1h0M1233.3,297.5h0M1233.9,301.3h0M1234.4,298.8h0M1235,297.6h0M1235.5,300.5h0M1236.1,296.4h0M1236.6,298h0M1237.2,297.4h0M1237.7,296.8h0M1238.3,298.7h0M1238.8,298.8h0M1239.4,295.8h0M1239.9,297.1h0M1240.5,298h0M1241,298.2h0M1241.6,298.6h0M1242.1,299.2h0M1242.7,296.2h0M1243.2,299.1h0M1243.8,295.2h0M1244.3,297h0M1244.9,296h0M1245.4,296.5h0M1246,298.1h0M1246.5,295.4h0M1247.1,296.6h0M1247.6,298.2h0M1248.2,298.7h0M1248.7,297.1h0M1249.3,296.7h0M1249.8,298.1h0M1250.4,297.5h0M1250.9,300.6h0M1251.5,300.4h0M1252,296.9h0M1252.6,297.5h0M1253.1,298.3h0M1253.7,294.2h0M1254.2,297.6h0M1254.8,299.8h0M1255.3,299.6h0M1255.9,298.2h0M1256.4,295.7h0M1257,296.4h0M1257.5,299.1h0M1258.1,296.4h0M1258.6,298.6h0M1259.2,297.6h0M1259.7,298.4h0M1260.3,294h0M1260.8,295.3h0M1261.4,296.1h0M1261.9,296.3h0M1262.5,296.1h0M1263,295.8h0M1263.6,297.3h0M1264.1,294.9h0M1264.7,296.8h0M1265.2,296h0M1265.8,297.8h0M1266.3,299.1h0M1266.9,297.5h0M1267.4,297.8h0M1268,297.1h0M1268.5,297.5h0M1269.1,292.7h0M1269.6,298.5h0M1270.2,297.3h0M1270.7,296.9h0M1271.3,297.4h0M1271.8,297.1h0M1272.4,295.6h0M1272.9,299.7h0M1273.5,296.8h0M1274,298.7h0M1274.6,294.6h0M1275.1,294h0M1275.7,296.7h0M1276.2,295.3h0M1276.8,297.7h0M1277.3,298.9h0M1277.9,294.2h0M1278.4,299.6h0M1279,298.7h0M1279.5,298h0M1280.1,296h0M1280.6,298.4h0M1281.2,296.6h0M1281.7,298.4h0M1282.3,298.2h0M1282.8,299.1h0M1283.4,299.1h0M1283.9,297.5h0M1284.5,299.3h0M1285,296h0M1285.6,297.5h0M1286.1,297.2h0M1286.7,297.9h0M1287.2,296.4h0M1287.8,296.3h0M1288.3,297.4h0M1288.9,297h0M1289.4,294.3h0M1290,295h0M1290.5,296.4h0M1291.1,295.4h0M1291.6,295.2h0M1292.2,298.3h0M1292.7,296.7h0M1293.3,296.2h0M1293.8,294.7h0M1294.4,297.1h0M1294.9,297.6h0M1295.5,296.6h0M1296,296.2h0M1296.6,300.8h0M1297.1,301.2h0M1297.7,299.8h0M1298.2,299.3h0M1298.8,299.6h0M1299.3,300.7h0M1299.9,299.2h0M1300.4,298h0M1301,297h0M1301.5,297.8h0M1302.1,299.3h0M1302.6,297.6h0M1292,299h0M1292.1,300.3h0M1292.2,301.6h0M1292.1,302.9h0M1292.8,304.2h0M1291.8,305.5h0M1292.9,306.8h0M1292,308.1h0" fill="none" stroke="#0000ff" stroke-width="4.0" stroke-linecap="round"/>
<path d="M1135.4,638.6H1297.4" stroke="#bebebe" stroke-width="4" fill="none"/>
<path d="M1135.4,631.3v14.6M1297.4,631.3v14.6" stroke="#bebebe" stroke-width="4" fill="none"/>
<path d="M331.3,703.1H385M385,703.9H680M680,704.7H985M985,705.4H1150M1150,705.9H1304.5" fill="none" stroke="#ff0000" stroke-width="4.3" stroke-linecap="round" stroke-linejoin="round"/>
<path clip-path="url(#pc)" d="M324.9,758.5C325.8,755.7 327.2,739.9 329.7,743.3C332.2,746.7 335.2,784.5 338.8,777.3C342.4,770.1 345.4,700 349.1,703.9C352.8,707.8 355.2,798 358.8,798.3C362.4,798.6 364.8,701.4 368.5,705.5C372.2,709.6 374.9,831.9 378.9,820.9C382.9,809.9 385.9,629 390.2,645.7C394.5,662.4 398.3,921.2 402.5,912C406.7,902.8 409,604.3 413.1,595.5C417.2,586.7 420.4,848.9 425.1,864C429.8,879.1 434.2,694.3 438.7,677.7C443.2,661.1 446.1,761.4 449.4,773.4C452.7,785.4 453.7,735 456.5,743.3C459.3,751.6 461,836.5 464.6,818.7C468.2,800.9 471.9,637.9 476.2,646.3C480.5,654.7 483.5,864.2 488.2,864.6C492.9,865 497.2,655.9 502.1,648.6C507,641.3 510.7,803 514.7,824.8C518.7,846.6 520.2,792.1 523.8,767.6C527.4,743.1 530.1,684.8 534.4,690.9C538.7,697 543.1,792.9 547.4,800.9C551.7,808.9 554.5,745.6 557.7,734.3C560.9,723 562.3,735.3 564.8,739.1C567.3,742.9 568.8,754.6 571.2,754.8C573.6,755 574.8,732.3 577.8,740.2C580.8,748.1 583.8,809 587.6,798C591.4,787 594.2,677 598.4,680.4C602.6,683.8 605.7,814.9 610.6,816.7C615.5,818.5 620.2,691.3 624.9,690.2C629.6,689.1 632.6,807.6 636.1,810.8C639.6,814 641.1,712.3 644.1,707.8C647.1,703.3 649.1,784.9 652.4,786.3C655.7,787.7 658.4,716.1 662.2,715.7C666,715.3 669.7,774.7 672.9,783.9C676.1,793.1 676.4,780.1 679.8,765.7C683.2,751.3 687.4,698.3 691.2,705.3C695,712.3 697.1,799.8 700.4,803.9C703.7,808 706.2,733.2 709.2,727.8C712.2,722.4 713.8,778.9 716.7,774.5C719.6,770.1 721.9,699.4 724.9,703.9C727.9,708.4 730,795 733.3,799C736.6,803 740.1,734.5 742.9,725.5C745.7,716.5 746.3,748.6 748.4,750C750.5,751.4 751.4,726.8 754.3,733.3C757.2,739.8 760.8,786.3 764.1,785.3C767.4,784.3 769.4,733.6 772.5,728C775.6,722.4 777.8,753 780.8,754.5C783.8,756 785.4,729.8 788.6,736.3C791.8,742.8 794.1,795.1 798,790.2C801.9,785.3 804.8,710.5 809.8,709.8C814.8,709.1 820.2,787 825.5,786.5C830.8,786 833.7,706.4 838.6,707.3C843.5,708.2 847.7,787.8 852,791.6C856.3,795.4 859,734.3 862.2,727.8C865.4,721.3 866.9,754.5 869.6,755.9C872.3,757.3 873.7,731.2 876.9,735.7C880.1,740.2 882.8,782.5 887.3,780.4C891.8,778.3 898.1,734 901.4,724.5C904.7,715 902,715.3 905.3,728.4C908.6,741.5 914.9,801.1 919.6,796.1C924.3,791.1 926.5,704.1 931.2,701.4C935.9,698.7 940.1,776.4 945.5,781.4C950.9,786.4 955.7,730.2 960.8,728.4C965.9,726.6 969.1,770.3 973.3,771.6C977.5,772.9 979.9,735.2 983.7,735.3C987.5,735.4 990,774.9 994.1,772C998.2,769.1 1001.2,717.2 1005.9,719.6C1010.6,722 1014.7,786.5 1020,785.3C1025.3,784.1 1029.3,714.3 1034.7,713.1C1040.1,711.9 1045.8,769.2 1049.4,778.8C1053,788.4 1051.3,777.6 1054.3,765.7C1057.3,753.8 1061.3,708.1 1065.5,713.7C1069.7,719.3 1072.9,795.5 1077.2,796.1C1081.5,796.7 1084.9,720.1 1088.8,717.1C1092.7,714.1 1094.5,778.3 1098.6,779.8C1102.7,781.3 1106.6,725.1 1111,725.5C1115.4,725.9 1118.3,782.2 1122.4,781.8C1126.5,781.4 1129.5,723.8 1133.1,723.5C1136.7,723.2 1138.2,777.4 1141.8,780.4C1145.4,783.4 1149.8,746 1152.7,739.8C1155.6,733.6 1155.7,746.6 1157.5,746.7C1159.3,746.8 1159.5,736.2 1162.5,740.2C1165.5,744.2 1171.1,765.1 1174.1,768.6C1177.1,772.1 1177.5,760.8 1179,759.4C1180.5,758 1181.3,762.2 1182.5,760.8C1183.7,759.4 1184.1,757.9 1185.5,752C1186.9,746.1 1187.7,727.9 1190.4,728.4C1193.1,728.9 1196.9,746.6 1200.2,754.9C1203.5,763.2 1204,778.3 1208.4,773.5C1212.8,768.7 1219.3,728.6 1224.3,728.8C1229.3,729 1230.5,774.6 1235.9,774.5C1241.3,774.4 1248.8,725.8 1253.7,728.4C1258.7,731 1259.3,790 1262.9,788.8C1266.5,787.6 1269.7,726.6 1273.1,721.6C1276.5,716.6 1279,752.9 1281.6,761.8C1284.2,770.7 1284.9,774.4 1287.5,770C1290.1,765.6 1294.4,743.7 1295.9,737.8" fill="none" stroke="#bebebe" stroke-width="2.2" stroke-linejoin="round"/>
<path d="M211.4,480.3V533M204.20000000000002,480.3h14.4M204.20000000000002,533h14.4" stroke="#bebebe" stroke-width="1.9" fill="none"/>
<circle cx="211.4" cy="506.6" r="4.1" fill="#000"/>
<path d="M325.6,503.4 327.1,511.2 328.5,502.4 329.8,515.9 331.6,502.9 332.9,511.2 334.9,503.3 336.1,508.1 337.7,504.1 339.3,509 340.9,500.9 342.8,509.5 344.4,504.7 345.9,510.1 347.4,502.1 348.9,509.7 350.2,501.4 351.8,511.4 353.6,499.1 355.6,511.2 357.2,504.2 358.9,510.4 360.6,503.3 362.3,509.2 363.6,503 365.3,510.2 366.8,502 368.3,512.4 370,502.5 372,511.7 373.9,501.1 375.1,510.5 376.8,500.1 378.7,508.4 380,502.4 381.3,509 383.2,500 385.1,515.4 386.5,498 388.4,510.1 390.2,504.4 391.6,511.4 393.4,504 395.3,510 396.5,501.2 398,509.5 399.8,502.7 401.7,510.1 403.1,503 404.3,510.7 405.8,503.8 407,509.6 408.7,501.2 410.5,512.1 412.2,502.1 414.2,508.7 415.8,504 417.3,508.6 418.7,502.9 420.3,508.4 421.6,502 423.3,510.5 425,503.2 426.5,508.2 428.3,503.4 429.6,511.4 431,504.2 432.6,508.8 434.1,501.8 435.4,509 437.2,500.6 438.4,510.1 439.9,504.5 441.6,510 443.4,504 445.3,510.8 446.9,503.6 448.8,509.4 450.8,503.1 452.6,508.4 454.4,504.1 456.1,508.4 457.6,503.1 459.3,511.4 461,504 462.2,508.8 463.7,502.6 465.3,510.2 467.2,503 469.2,510.5 470.7,503.5 472,511.9 473.5,503.2 475.1,512.5 476.5,502.5 478.1,510.2 479.8,500.2 481.3,508.5 482.6,504.6 484,508.5 485.6,501.9 487,510.7 488.8,502.2 490.4,508.5 492.2,501.6 493.8,509.6 495.5,504 496.7,510.3 498,502.4 499.5,511.9 501.5,499.3 502.9,511.7 504.9,497.6 506.8,509.6 508.2,501.1 509.9,510 511.6,504.5 513.1,509.2 514.9,503.2 516.6,511.3 518.4,502.4 519.8,511.8 521.6,502.8 523.2,510.2 525.1,500.5 526.4,509.7 527.7,501.1 529.6,511.8 531,504.8 532.5,510.9 533.7,503.7 534.9,510.7 536.5,504 538,512.2 539.9,502.1 541.6,511.3 543.3,503.4 545,511.2 546.7,500.4 548.2,510.6 549.7,498.7 551.4,513.3 553,502 554.6,510.5 556.6,503.6 558,514.4 559.9,503.1 561.2,513.9 562.7,501.8 564.6,509.9 566.2,500.9 567.6,513.5 569.1,504.4 570.6,511.7 572.5,498.7 573.9,508.8 575.4,502.4 577.2,511.7 578.9,498.1 580.1,512.7 582,498 583.7,510.4 585.4,501.4 587,511.9 588.3,501.1 590.2,511.2 591.9,498.8 593.8,512 595.5,503.2 596.9,511.3 598.3,498.9 600.3,510.8 601.8,503.5 603.6,508.9 605.2,503 606.7,514.1 608.2,503.8 609.9,509.1 611.5,500.8 612.9,512.5 614.1,499.3 615.9,512.3 617.9,499.6 619.4,512.2 621,503.2 622.3,513.2 624.1,503.6 625.9,509 627.7,500.3 629,512.2 630.2,504.1 631.5,511.2 633,504.6 634.4,511.8 636.1,503.8 637.5,511.7 639,500.8 640.5,511.9 642.1,500.7 643.5,509.9 644.8,500.9 646.3,512.2 647.6,500.9 649.4,510.5 650.9,500.5 652.9,512.3 654.8,500.3 656.8,511.3 658.3,503.7 659.9,509.1 661.7,501 663.2,510.2 665.1,503.2 666.4,510.6 668.3,499.3 670.3,510.6 671.7,502.7 673.7,509.1 675,501.4 676.4,510.3 678,504.7 679.8,511.5 681.2,503.2 682.6,509.1 684.4,504.1 685.8,508.4 687.3,503.6 689,519.5 691,493.9 692.5,513.8 694.4,501.1 695.7,509.9 697.2,501.2 699.2,514.7 700.4,502.5 701.9,517.4 703.5,496.2 704.7,510.2 706.4,502.2 707.8,510.3 709.1,503.7 710.6,510.6 712.4,502 713.6,509.7 715.6,503.4 717.3,509.4 719.3,503.7 720.6,514.6 722.1,502.1 723.5,508.8 724.8,503.6 726.2,510.3 727.7,501.3 729.3,508.6 731,501.7 732.2,509.1 734.1,502.9 735.4,509.9 736.8,504.5 738.1,510.2 739.9,502.7 741.2,510.3 743.2,503.8 744.6,511.9 746.3,503.9 748.1,511.6 750.1,500.9 751.5,510.3 752.7,502.1 754.3,510.4 755.5,503.9 757.3,513.4 759.3,501.4 760.9,511.3 762.6,497.3 764,508.5 765.8,504.6 767.6,508.5 769.5,503.8 771.5,510.4 773.3,503.7 774.9,508.7 776.2,503.7 777.6,510.2 779.5,502.9 780.9,508.9 782.2,505.1 783.8,511 785.6,501.9 787.2,511.3 788.7,500.5 790,508.7 791.8,500.9 793.4,511.8 795.1,500.4 796.4,510.4 798,502.8 799.5,514.4 801.1,501.3 802.4,511.8 803.9,503.4 805.8,509.5 807.5,501.8 808.9,513.3 810.2,498.5 811.8,508.7 813,500.7 815,512.1 816.6,502.9 818.4,509.4 820.1,502.7 821.4,509.9 823.4,501.9 824.9,511.2 826.1,502.5 827.6,512 829,503.4 830.3,509.9 831.6,504.5 833.1,510.8 834.7,501.9 836.2,509.4 837.8,502.6 839.2,510.5 840.7,503.3 842.2,514.4 843.7,503.4 845.6,509.8 847,503.2 848.9,515.8 850.1,496.8 851.8,509.1 853.6,504.8 855,508.9 856.5,502.8 857.8,513.8 859.6,503.1 861.6,510.7 862.9,500.6 864.2,511.1 865.6,503.9 867,510.8 868.8,501.6 870.6,509.7 872.3,503.8 874.2,509.1 876,503.7 877.5,508.9 878.8,502.4 880.3,508.8 882.2,499.2 883.9,511.7 885.3,500.2 886.8,508.9 888.6,499.5 890,512.3 891.4,500.4 893.3,509.7 895.1,502.6 896.6,512.7 898.1,499.8 899.5,509 900.8,501.9 902.4,510.8 904.3,504.4 906,511.4 907.3,504 908.6,511.1 910.2,500.8 911.8,512.3 913.6,501.6 915.4,511.5 917,501.2 918.9,511 920.5,504.2 922.3,510.1 924,504.4 925.7,509.1 926.9,500.5 928.5,510.8 930.5,500.5 931.7,509.7 933.3,499.8 934.6,518 936.3,501.7 937.9,511 939.7,502.8 940.9,510.6 942.8,500.2 944.4,509.3 946.4,505 947.9,508.6 949.4,502.9 950.7,511.7 951.9,500.2 953.9,510 955.5,497.3 956.9,510.4 958.9,498.8 960.7,510.3 962.1,501.9 963.9,508.9 965.2,502.6 966.4,513.1 968.3,497.9 969.7,514.3 971.4,501.4 973.3,514 975,500 976.3,510.9 977.5,502 978.9,512 980.3,502 981.7,509.2 983.4,503.9 985.2,508.8 987.2,503.9 988.5,510.4 990.3,504.9 991.9,508.6 993.6,504.4 995.4,510.1 997.1,504.1 998.8,513 1000.2,501.9 1001.6,512.8 1003.6,501.5 1004.9,512.3 1006.4,497.7 1008.1,508.2 1009.7,503.6 1011,509.7 1012.5,502.4 1014.3,508.8 1016.2,504.9 1017.9,508.7 1019.4,502.7 1021.4,513 1023.2,504.6 1024.9,509.8 1026.9,504.6 1028.3,511.9 1030.2,503.7 1032,511.3 1033.3,504.8 1035.1,519 1036.6,493.5 1038.4,514.1 1040.4,502.8 1041.8,511.8 1043,502.4 1044.6,514.1 1046.1,496.1 1048,516.6 1049.6,497.7 1050.9,510.8 1052.7,496 1054.5,517.6 1056.1,498.7 1058,521.8 1059.4,500.7 1061.1,521.9 1062.8,490.2 1064,523.5 1065.3,491.2 1066.5,511.8 1068,501.3 1069.4,516 1070.8,492.6 1072.4,512.1 1074,494.9 1075.3,515.9 1076.7,492.9 1078.4,533.5 1080.3,499 1081.7,515 1083.5,492.3 1084.9,524.6 1086.4,486.6 1087.8,521.2 1089.4,484.8 1091,516.3 1092.3,484.9 1093.5,520.4 1094.8,493 1096,516.3 1097.6,483.5 1099.2,526.7 1100,486.5 1102,526.7 1104.4,469.4 1106.5,540 1108.2,488 1109.9,528.6 1111.7,484 1113.6,523.8 1115.6,483.7 1117.8,531.6 1119.9,490.6 1121.6,469.4 1123.5,543.9 1125.8,518.3 1127.7,486.6 1129.5,519.3 1131.2,522.6 1132.9,488.2 1137,532.4 1138.8,460.9 1140.9,554.4 1142.3,461.8 1144.1,576.5 1146.2,401.8 1147.9,659.4 1149.7,350.9 1151.8,619.7 1153.8,434.4 1156.2,515.6 1158.5,573.8 1160.3,401.8 1162.1,620.6 1164.7,404.4 1167,580 1170,446.8 1172.1,555.6 1175,490 1178.8,552.6 1180.8,436.7 1182.7,570.8 1185,445.9 1186.8,566.8 1188.2,463.5 1189.9,542.1 1191.5,471.5 1192.9,538.5 1196.1,461.8 1197.7,559.2 1201.8,459.6 1203.2,554.9 1205.3,482.9 1207.9,541.2 1209.8,483 1211.9,517.1 1214.1,544.7 1215,476.8 1216.1,465.6 1218.2,534.2 1219.8,476.9 1220.9,463 1222.9,466.4 1224.2,544.5 1226,474.7 1227.6,542.7 1229,486.4 1230.5,535.3 1232.1,478.4 1233.9,550.4 1236.1,459.1 1237.4,539.6 1239.3,478.6 1240.6,544.9 1242.3,477.5 1243.7,538.9 1245.3,478.3 1246.8,541.2 1248.4,484 1250.3,528.7 1251.8,479.3 1253.3,469.3 1255.2,473.2 1256.6,533.7 1258.5,469.6 1260.4,550.4 1262.3,469.6 1263.9,534.1 1265.8,484.3 1267.3,524.6 1269,491.7 1270.4,534.4 1272.1,481.3 1273.6,528.2 1275.2,492.1 1276.7,534.1 1278.5,487.8 1280.2,532.8 1282.1,487 1283.5,533.7 1285,491.3 1286.4,529 1288.1,488.5 1289.7,525.8 1291.5,543.9 1293,537.9 1295,481.9 1296.9,520.7" fill="none" stroke="#000" stroke-width="1.0" stroke-linejoin="round"/>
<path d="M1141,492.8 1141.9,533.4 1143.1,488.2 1144.1,553.2 1145.2,465.6 1146.1,554.7 1147.1,439.7 1147.9,563.3 1149.1,465.9 1150.2,550.6 1151.3,456.7 1152.5,552.5 1153.6,485.7 1154.9,526.3 1156.3,478.4 1158.2,528.4 1159.9,486.4 1161.5,548.1 1162.9,465.6 1164.4,535.8 1166.2,465.7 1167.6,522.9 1168.9,486.5 1170.6,537.6 1172.5,480 1174.2,527.3 1176.4,487.5 1178.8,525.9 1180.5,492.9 1182.2,527.4 1184.3,482.6 1185.9,514.1 1188.3,495.7 1190.1,523 1191.8,488.9 1194.1,519 1196.2,500.6 1198.3,519.5 1200.5,493.9 1202.2,514.6 1204.3,500 1206,514.9 1208.2,494.3 1210.1,523.4" fill="none" stroke="#000" stroke-width="0.6" stroke-linejoin="round" opacity="0.6"/>
<path d="M325.3,506.6 325.9,506.8 326.5,507 327.1,507.1 327.7,507 328.3,507 328.9,506.8 329.5,506.7 330.1,506.5 330.7,506.5 331.3,506.4 331.9,506.5 332.5,506.6 333.1,506.8 333.7,507.1 334.3,507.3 334.9,507.5 335.5,507.6 336.1,507.6 336.7,507.6 337.3,507.4 337.9,507.2 338.5,507 339.1,506.8 339.7,506.7 340.3,506.6 340.9,506.6 341.5,506.7 342.1,506.8 342.7,507 343.3,507.1 343.9,507.3 344.5,507.3 345.1,507.3 345.7,507.2 346.3,507 346.9,506.8 347.5,506.6 348.1,506.4 348.7,506.2 349.3,506.1 349.9,506.1 350.5,506.2 351.1,506.3 351.7,506.5 352.3,506.7 352.9,506.9 353.5,507 354.1,507 354.7,506.9 355.3,506.8 355.9,506.6 356.5,506.4 357.1,506.3 357.7,506.2 358.3,506.1 358.9,506.2 359.5,506.3 360.1,506.5 360.7,506.7 361.3,507 361.9,507.2 362.5,507.3 363.1,507.3 363.7,507.3 364.3,507.2 364.9,507 365.5,506.8 366.1,506.6 366.7,506.5 367.3,506.4 367.9,506.5 368.5,506.6 369.1,506.7 369.7,506.9 370.3,507.1 370.9,507.2 371.5,507.3 372.1,507.3 372.7,507.2 373.3,507 373.9,506.8 374.5,506.5 375.1,506.3 375.7,506.1 376.3,506 376.9,505.9 377.5,506 378.1,506.1 378.7,506.3 379.3,506.4 379.9,506.5 380.5,506.6 381.1,506.6 381.7,506.4 382.3,506.3 382.9,506 383.5,505.8 384.1,505.6 384.7,505.4 385.3,505.3 385.9,505.3 386.5,505.4 387.1,505.6 387.7,505.8 388.3,506 388.9,506.2 389.5,506.3 390.1,506.3 390.7,506.3 391.3,506.2 391.9,506 392.5,505.8 393.1,505.7 393.7,505.6 394.3,505.5 394.9,505.6 395.5,505.7 396.1,505.9 396.7,506.2 397.3,506.4 397.9,506.6 398.5,506.8 399.1,506.8 399.7,506.8 400.3,506.6 400.9,506.5 401.5,506.3 402.1,506.1 402.7,505.9 403.3,505.9 403.9,505.9 404.5,506 405.1,506.1 405.7,506.3 406.3,506.5 406.9,506.7 407.5,506.8 408.1,506.7 408.7,506.7 409.3,506.5 409.9,506.3 410.5,506 411.1,505.8 411.7,505.6 412.3,505.5 412.9,505.5 413.5,505.6 414.1,505.7 414.7,505.9 415.3,506.1 415.9,506.3 416.5,506.4 417.1,506.4 417.7,506.3 418.3,506.2 418.9,506 419.5,505.8 420.1,505.6 420.7,505.5 421.3,505.5 421.9,505.5 422.5,505.7 423.1,505.9 423.7,506.1 424.3,506.4 424.9,506.6 425.5,506.7 426.1,506.8 426.7,506.8 427.3,506.7 427.9,506.6 428.5,506.4 429.1,506.3 429.7,506.2 430.3,506.2 430.9,506.3 431.5,506.4 432.1,506.6 432.7,506.9 433.3,507.1 433.9,507.3 434.5,507.5 435.1,507.5 435.7,507.5 436.3,507.3 436.9,507.2 437.5,506.9 438.1,506.7 438.7,506.6 439.3,506.5 439.9,506.5 440.5,506.6 441.1,506.8 441.7,507 442.3,507.1 442.9,507.3 443.5,507.3 444.1,507.3 444.7,507.2 445.3,507.1 445.9,506.8 446.5,506.6 447.1,506.4 447.7,506.2 448.3,506.1 448.9,506.1 449.5,506.2 450.1,506.3 450.7,506.5 451.3,506.7 451.9,506.9 452.5,507 453.1,507 453.7,507 454.3,506.8 454.9,506.7 455.5,506.5 456.1,506.3 456.7,506.2 457.3,506.1 457.9,506.2 458.5,506.3 459.1,506.5 459.7,506.8 460.3,507 460.9,507.2 461.5,507.4 462.1,507.4 462.7,507.4 463.3,507.3 463.9,507.1 464.5,506.9 465.1,506.8 465.7,506.6 466.3,506.6 466.9,506.6 467.5,506.7 468.1,506.9 468.7,507.1 469.3,507.3 469.9,507.5 470.5,507.6 471.1,507.6 471.7,507.5 472.3,507.3 472.9,507 473.5,506.8 474.1,506.5 474.7,506.3 475.3,506.2 475.9,506.2 476.5,506.2 477.1,506.4 477.7,506.5 478.3,506.7 478.9,506.8 479.5,506.8 480.1,506.8 480.7,506.7 481.3,506.5 481.9,506.3 482.5,506 483.1,505.8 483.7,505.6 484.3,505.5 484.9,505.5 485.5,505.6 486.1,505.7 486.7,505.9 487.3,506.1 487.9,506.3 488.5,506.4 489.1,506.4 489.7,506.4 490.3,506.3 490.9,506.1 491.5,505.9 492.1,505.7 492.7,505.6 493.3,505.6 493.9,505.6 494.5,505.8 495.1,506 495.7,506.2 496.3,506.4 496.9,506.7 497.5,506.8 498.1,506.8 498.7,506.8 499.3,506.7 499.9,506.5 500.5,506.3 501.1,506.1 501.7,505.9 502.3,505.9 502.9,505.9 503.5,506 504.1,506.2 504.7,506.3 505.3,506.5 505.9,506.7 506.5,506.8 507.1,506.8 507.7,506.7 508.3,506.5 508.9,506.2 509.5,506 510.1,505.7 510.7,505.6 511.3,505.5 511.9,505.4 512.5,505.5 513.1,505.7 513.7,505.8 514.3,506 514.9,506.2 515.5,506.3 516.1,506.3 516.7,506.2 517.3,506 517.9,505.8 518.5,505.6 519.1,505.4 519.7,505.3 520.3,505.2 520.9,505.3 521.5,505.4 522.1,505.6 522.7,505.9 523.3,506.1 523.9,506.3 524.5,506.5 525.1,506.6 525.7,506.6 526.3,506.5 526.9,506.3 527.5,506.2 528.1,506 528.7,505.9 529.3,505.9 529.9,506 530.5,506.2 531.1,506.4 531.7,506.7 532.3,506.9 532.9,507.1 533.5,507.3 534.1,507.3 534.7,507.3 535.3,507.2 535.9,507 536.5,506.8 537.1,506.6 537.7,506.4 538.3,506.4 538.9,506.4 539.5,506.5 540.1,506.7 540.7,506.9 541.3,507.1 541.9,507.2 542.5,507.3 543.1,507.3 543.7,507.2 544.3,507 544.9,506.8 545.5,506.5 546.1,506.3 546.7,506.1 547.3,506 547.9,506 548.5,506.1 549.1,506.3 549.7,506.5 550.3,506.7 550.9,506.9 551.5,507 552.1,507 552.7,506.9 553.3,506.8 553.9,506.6 554.5,506.4 555.1,506.2 555.7,506.1 556.3,506.1 556.9,506.1 557.5,506.3 558.1,506.5 558.7,506.8 559.3,507 559.9,507.2 560.5,507.4 561.1,507.5 561.7,507.4 562.3,507.3 562.9,507.2 563.5,507 564.1,506.8 564.7,506.7 565.3,506.6 565.9,506.7 566.5,506.8 567.1,507 567.7,507.2 568.3,507.5 568.9,507.6 569.5,507.7 570.1,507.8 570.7,507.7 571.3,507.5 571.9,507.3 572.5,507 573.1,506.8 573.7,506.6 574.3,506.5 574.9,506.4 575.5,506.5 576.1,506.6 576.7,506.8 577.3,506.9 577.9,507.1 578.5,507.1 579.1,507.1 579.7,507 580.3,506.8 580.9,506.5 581.5,506.2 582.1,506 582.7,505.8 583.3,505.7 583.9,505.7 584.5,505.8 585.1,505.9 585.7,506.1 586.3,506.3 586.9,506.5 587.5,506.6 588.1,506.6 588.7,506.6 589.3,506.4 589.9,506.2 590.5,506 591.1,505.8 591.7,505.7 592.3,505.7 592.9,505.7 593.5,505.8 594.1,506.1 594.7,506.3 595.3,506.6 595.9,506.8 596.5,506.9 597.1,506.9 597.7,506.9 598.3,506.8 598.9,506.6 599.5,506.4 600.1,506.2 600.7,506 601.3,505.9 601.9,506 602.5,506.1 603.1,506.2 603.7,506.4 604.3,506.6 604.9,506.8 605.5,506.9 606.1,506.9 606.7,506.8 607.3,506.6 607.9,506.3 608.5,506.1 609.1,505.8 609.7,505.6 610.3,505.5 610.9,505.5 611.5,505.5 612.1,505.7 612.7,505.8 613.3,506 613.9,506.2 614.5,506.2 615.1,506.2 615.7,506.1 616.3,506 616.9,505.7 617.5,505.5 618.1,505.3 618.7,505.1 619.3,505.1 619.9,505.1 620.5,505.2 621.1,505.4 621.7,505.7 622.3,505.9 622.9,506.2 623.5,506.3 624.1,506.4 624.7,506.3 625.3,506.2 625.9,506.1 626.5,505.9 627.1,505.8 627.7,505.7 628.3,505.7 628.9,505.7 629.5,505.9 630.1,506.1 630.7,506.4 631.3,506.7 631.9,506.9 632.5,507.1 633.1,507.1 633.7,507.1 634.3,507 634.9,506.8 635.5,506.6 636.1,506.4 636.7,506.2 637.3,506.2 637.9,506.2 638.5,506.3 639.1,506.5 639.7,506.7 640.3,506.9 640.9,507.1 641.5,507.2 642.1,507.2 642.7,507.1 643.3,506.9 643.9,506.7 644.5,506.4 645.1,506.2 645.7,506 646.3,505.9 646.9,505.9 647.5,506 648.1,506.1 648.7,506.4 649.3,506.6 649.9,506.7 650.5,506.9 651.1,506.9 651.7,506.8 652.3,506.7 652.9,506.5 653.5,506.3 654.1,506.1 654.7,506 655.3,505.9 655.9,506 656.5,506.1 657.1,506.4 657.7,506.6 658.3,506.9 658.9,507.1 659.5,507.3 660.1,507.4 660.7,507.4 661.3,507.3 661.9,507.1 662.5,506.9 663.1,506.8 663.7,506.6 664.3,506.6 664.9,506.7 665.5,506.8 666.1,507 666.7,507.3 667.3,507.5 667.9,507.7 668.5,507.9 669.1,507.9 669.7,507.8 670.3,507.6 670.9,507.4 671.5,507.2 672.1,506.9 672.7,506.7 673.3,506.6 673.9,506.6 674.5,506.7 675.1,506.8 675.7,507 676.3,507.2 676.9,507.3 677.5,507.4 678.1,507.3 678.7,507.2 679.3,507 679.9,506.7 680.5,506.5 681.1,506.2 681.7,506 682.3,505.9 682.9,505.9 683.5,506 684.1,506.1 684.7,506.3 685.3,506.5 685.9,506.7 686.5,506.8 687.1,506.8 687.7,506.7 688.3,506.6 688.9,506.4 689.5,506.2 690.1,506 690.7,505.8 691.3,505.8 691.9,505.8 692.5,506 693.1,506.2 693.7,506.4 694.3,506.7 694.9,506.9 695.5,507.1 696.1,507.1 696.7,507.1 697.3,506.9 697.9,506.7 698.5,506.5 699.1,506.3 699.7,506.2 700.3,506.1 700.9,506.1 701.5,506.2 702.1,506.4 702.7,506.6 703.3,506.8 703.9,507 704.5,507.1 705.1,507.1 705.7,507 706.3,506.8 706.9,506.5 707.5,506.2 708.1,506 708.7,505.7 709.3,505.6 709.9,505.6 710.5,505.6 711.1,505.8 711.7,506 712.3,506.1 712.9,506.3 713.5,506.3 714.1,506.3 714.7,506.2 715.3,506 715.9,505.8 716.5,505.5 717.1,505.3 717.7,505.1 718.3,505 718.9,505 719.5,505.1 720.1,505.3 720.7,505.6 721.3,505.8 721.9,506 722.5,506.2 723.1,506.2 723.7,506.2 724.3,506.1 724.9,505.9 725.5,505.7 726.1,505.6 726.7,505.4 727.3,505.4 727.9,505.5 728.5,505.7 729.1,505.9 729.7,506.2 730.3,506.5 730.9,506.7 731.5,506.9 732.1,506.9 732.7,506.9 733.3,506.8 733.9,506.6 734.5,506.4 735.1,506.2 735.7,506 736.3,506 736.9,506 737.5,506.1 738.1,506.3 738.7,506.5 739.3,506.8 739.9,506.9 740.5,507 741.1,507 741.7,506.9 742.3,506.8 742.9,506.5 743.5,506.2 744.1,506 744.7,505.8 745.3,505.7 745.9,505.7 746.5,505.8 747.1,506 747.7,506.2 748.3,506.4 748.9,506.6 749.5,506.7 750.1,506.7 750.7,506.6 751.3,506.5 751.9,506.3 752.5,506.1 753.1,505.9 753.7,505.7 754.3,505.7 754.9,505.7 755.5,505.9 756.1,506.1 756.7,506.4 757.3,506.7 757.9,507 758.5,507.1 759.1,507.2 759.7,507.2 760.3,507.1 760.9,506.9 761.5,506.8 762.1,506.6 762.7,506.5 763.3,506.5 763.9,506.5 764.5,506.7 765.1,506.9 765.7,507.2 766.3,507.5 766.9,507.7 767.5,507.8 768.1,507.9 768.7,507.8 769.3,507.7 769.9,507.5 770.5,507.2 771.1,507 771.7,506.8 772.3,506.7 772.9,506.7 773.5,506.8 774.1,506.9 774.7,507.1 775.3,507.3 775.9,507.5 776.5,507.6 777.1,507.5 777.7,507.4 778.3,507.2 778.9,506.9 779.5,506.6 780.1,506.4 780.7,506.2 781.3,506 781.9,506 782.5,506.1 783.1,506.3 783.7,506.5 784.3,506.7 784.9,506.9 785.5,507 786.1,507 786.7,506.9 787.3,506.8 787.9,506.5 788.5,506.3 789.1,506.1 789.7,506 790.3,505.9 790.9,506 791.5,506.1 792.1,506.3 792.7,506.6 793.3,506.9 793.9,507.1 794.5,507.2 795.1,507.3 795.7,507.2 796.3,507.1 796.9,506.9 797.5,506.7 798.1,506.5 798.7,506.3 799.3,506.3 799.9,506.3 800.5,506.4 801.1,506.6 801.7,506.8 802.3,507.1 802.9,507.2 803.5,507.3 804.1,507.3 804.7,507.2 805.3,507 805.9,506.8 806.5,506.5 807.1,506.2 807.7,506 808.3,505.8 808.9,505.8 809.5,505.9 810.1,506 810.7,506.2 811.3,506.3 811.9,506.5 812.5,506.5 813.1,506.5 813.7,506.4 814.3,506.2 814.9,505.9 815.5,505.6 816.1,505.4 816.7,505.2 817.3,505.1 817.9,505.1 818.5,505.2 819.1,505.4 819.7,505.6 820.3,505.8 820.9,506 821.5,506.2 822.1,506.2 822.7,506.2 823.3,506 823.9,505.8 824.5,505.6 825.1,505.4 825.7,505.3 826.3,505.3 826.9,505.4 827.5,505.5 828.1,505.8 828.7,506.1 829.3,506.3 829.9,506.6 830.5,506.8 831.1,506.8 831.7,506.8 832.3,506.7 832.9,506.5 833.5,506.2 834.1,506 834.7,505.9 835.3,505.8 835.9,505.9 836.5,506 837.1,506.2 837.7,506.4 838.3,506.6 838.9,506.8 839.5,506.9 840.1,506.9 840.7,506.8 841.3,506.6 841.9,506.4 842.5,506.1 843.1,505.8 843.7,505.7 844.3,505.5 844.9,505.5 845.5,505.6 846.1,505.8 846.7,506 847.3,506.2 847.9,506.4 848.5,506.5 849.1,506.5 849.7,506.4 850.3,506.3 850.9,506.1 851.5,505.8 852.1,505.6 852.7,505.5 853.3,505.4 853.9,505.5 854.5,505.6 855.1,505.9 855.7,506.2 856.3,506.4 856.9,506.7 857.5,506.9 858.1,507 858.7,506.9 859.3,506.8 859.9,506.7 860.5,506.5 861.1,506.3 861.7,506.2 862.3,506.2 862.9,506.3 863.5,506.5 864.1,506.7 864.7,507 865.3,507.3 865.9,507.6 866.5,507.7 867.1,507.8 867.7,507.7 868.3,507.6 868.9,507.4 869.5,507.1 870.1,506.9 870.7,506.8 871.3,506.7 871.9,506.7 872.5,506.8 873.1,507 873.7,507.2 874.3,507.4 874.9,507.5 875.5,507.6 876.1,507.6 876.7,507.5 877.3,507.3 877.9,507 878.5,506.7 879.1,506.5 879.7,506.2 880.3,506.1 880.9,506.1 881.5,506.2 882.1,506.4 882.7,506.6 883.3,506.8 883.9,507 884.5,507.1 885.1,507.1 885.7,507 886.3,506.9 886.9,506.6 887.5,506.4 888.1,506.2 888.7,506 889.3,506 889.9,506 890.5,506.2 891.1,506.4 891.7,506.7 892.3,507 892.9,507.2 893.5,507.4 894.1,507.4 894.7,507.4 895.3,507.3 895.9,507.1 896.5,506.9 897.1,506.7 897.7,506.5 898.3,506.4 898.9,506.5 899.5,506.6 900.1,506.8 900.7,507.1 901.3,507.3 901.9,507.5 902.5,507.6 903.1,507.6 903.7,507.5 904.3,507.3 904.9,507 905.5,506.7 906.1,506.5 906.7,506.2 907.3,506.1 907.9,506.1 908.5,506.1 909.1,506.3 909.7,506.5 910.3,506.6 910.9,506.8 911.5,506.8 912.1,506.8 912.7,506.7 913.3,506.4 913.9,506.1 914.5,505.8 915.1,505.5 915.7,505.3 916.3,505.2 916.9,505.2 917.5,505.3 918.1,505.5 918.7,505.7 919.3,505.9 919.9,506.1 920.5,506.3 921.1,506.3 921.7,506.2 922.3,506.1 922.9,505.9 923.5,505.6 924.1,505.4 924.7,505.3 925.3,505.3 925.9,505.3 926.5,505.5 927.1,505.7 927.7,506 928.3,506.3 928.9,506.6 929.5,506.7 930.1,506.8 930.7,506.7 931.3,506.6 931.9,506.4 932.5,506.2 933.1,506 933.7,505.8 934.3,505.7 934.9,505.8 935.5,505.9 936.1,506.1 936.7,506.4 937.3,506.6 937.9,506.8 938.5,506.9 939.1,506.9 939.7,506.8 940.3,506.6 940.9,506.3 941.5,506 942.1,505.8 942.7,505.5 943.3,505.4 943.9,505.4 944.5,505.5 945.1,505.7 945.7,505.9 946.3,506.1 946.9,506.3 947.5,506.4 948.1,506.4 948.7,506.3 949.3,506.1 949.9,505.9 950.5,505.6 951.1,505.4 951.7,505.2 952.3,505.1 952.9,505.2 953.5,505.3 954.1,505.6 954.7,505.9 955.3,506.2 955.9,506.4 956.5,506.6 957.1,506.7 957.7,506.7 958.3,506.5 958.9,506.4 959.5,506.2 960.1,506 960.7,505.9 961.3,505.9 961.9,506 962.5,506.2 963.1,506.5 963.7,506.8 964.3,507.1 964.9,507.3 965.5,507.5 966.1,507.6 966.7,507.6 967.3,507.4 967.9,507.2 968.5,507 969.1,506.8 969.7,506.6 970.3,506.5 970.9,506.6 971.5,506.7 972.1,506.9 972.7,507.1 973.3,507.3 973.9,507.5 974.5,507.6 975.1,507.6 975.7,507.5 976.3,507.3 976.9,507 977.5,506.7 978.1,506.4 978.7,506.2 979.3,506.1 979.9,506.1 980.5,506.2 981.1,506.4 981.7,506.6 982.3,506.8 982.9,507 983.5,507.1 984.1,507.2 984.7,507.1 985.3,506.9 985.9,506.7 986.5,506.4 987.1,506.2 987.7,506 988.3,506 988.9,506 989.5,506.2 990.1,506.4 990.7,506.7 991.3,507 991.9,507.3 992.5,507.5 993.1,507.5 993.7,507.5 994.3,507.4 994.9,507.2 995.5,506.9 996.1,506.8 996.7,506.6 997.3,506.6 997.9,506.6 998.5,506.8 999.1,507 999.7,507.3 1000.3,507.5 1000.9,507.7 1001.5,507.9 1002.1,507.9 1002.7,507.8 1003.3,507.6 1003.9,507.3 1004.5,507 1005.1,506.7 1005.7,506.5 1006.3,506.4 1006.9,506.4 1007.5,506.4 1008.1,506.6 1008.7,506.8 1009.3,507 1009.9,507.1 1010.5,507.2 1011.1,507.1 1011.7,507 1012.3,506.7 1012.9,506.4 1013.5,506.1 1014.1,505.8 1014.7,505.6 1015.3,505.5 1015.9,505.4 1016.5,505.5 1017.1,505.7 1017.7,505.9 1018.3,506.1 1018.9,506.3 1019.5,506.5 1020.1,506.5 1020.7,506.4 1021.3,506.2 1021.9,506 1022.5,505.7 1023.1,505.5 1023.7,505.4 1024.3,505.3 1024.9,505.4 1025.5,505.5 1026.1,505.8 1026.7,506.1 1027.3,506.4 1027.9,506.6 1028.5,506.8 1029.1,506.8 1029.7,506.8 1030.3,506.7 1030.9,506.4 1031.5,506.2 1032.1,506 1032.7,505.8 1033.3,505.8 1033.9,505.8 1034.5,505.9 1035.1,506.1 1035.7,506.4 1036.3,506.6 1036.9,506.8 1037.5,506.9 1038.1,506.9 1038.7,506.8 1039.3,506.6 1039.9,506.3 1040.5,506 1041.1,505.6 1041.7,505.2 1042.3,505 1042.9,504.8 1043.5,504.8 1044.1,505 1044.7,505.3 1045.3,505.7 1045.9,506 1046.5,506.1 1047.1,506.1 1047.7,505.8 1048.3,505.3 1048.9,504.5 1049.5,503.7 1050.1,502.8 1050.7,502.2 1051.3,501.8 1051.9,501.7 1052.5,502 1053.1,502.7 1053.7,503.5 1054.3,504.5 1054.9,505.3 1055.5,506 1056.1,506.3 1056.7,506.1 1057.3,505.6 1057.9,504.8 1058.5,503.9 1059.1,503.1 1059.7,502.5 1060.3,504.6 1060.9,504.7 1061.5,505.2 1062.1,506 1062.7,506.9 1063.3,507.8 1063.9,508.5 1064.5,508.9 1065.1,508.8 1065.7,508.3 1066.3,507.5 1066.9,506.4 1067.5,505.4 1068.1,504.5 1068.7,504 1069.3,504 1069.9,504.6 1070.5,505.5 1071.1,506.8 1071.7,508.1 1072.3,509.2 1072.9,509.8 1073.5,509.8 1074.1,509.2 1074.7,508.1 1075.3,506.6 1075.9,505 1076.5,503.7 1077.1,502.9 1077.7,502.8 1078.3,503.5 1078.9,504.8 1079.5,506.5 1080.1,508.4 1080.7,509.9 1081.3,510.9 1081.9,511 1082.5,510.3 1083.1,508.9 1083.7,506.9 1084.3,504.9 1084.9,503.2 1085.5,502.1 1086.1,501.9 1086.7,502.6 1087.3,504.1 1087.9,506.2 1088.5,508.3 1089.1,510.1 1089.7,511.3 1090.3,511.6 1090.9,510.9 1091.5,509.3 1092.1,507.3 1092.7,505.2 1093.3,503.3 1093.9,502.2 1094.5,501.9 1095.1,502.5 1095.7,503.9 1096.3,505.8 1096.9,507.9 1097.5,509.6 1098.1,510.8 1098.7,511.1 1099.3,510.5 1099.9,509.3 1100.5,507.5 1101.1,505.7 1101.7,504.1 1102.3,503.1 1102.9,502.7 1103.5,503.2 1104.1,504.3 1104.7,505.8 1105.3,507.4 1105.9,508.7 1106.5,509.7 1107.1,510 1107.7,509.7 1108.3,508.8 1108.9,507.5 1109.5,506.2 1110.1,504.9 1110.7,504.1 1111.3,503.7 1111.9,503.9 1112.5,504.7 1113.1,505.8 1113.7,507 1114.3,508.1 1114.9,509 1115.5,509.4 1116.1,509.2 1116.7,508.6 1117.3,507.6 1117.9,506.4 1118.5,505.2 1119.1,504.3 1119.7,503.9 1120.3,503.9 1120.9,504.5 1121.5,505.5 1122.1,506.8 1122.7,508.1 1123.3,509.2 1123.9,509.8 1124.5,509.8 1125.1,509.2 1125.7,508.1 1126.3,506.6 1126.9,505 1127.5,503.6 1128.1,502.7 1128.7,502.5 1129.3,503.2 1129.9,504.6 1130.5,506.5 1131.1,508.7 1131.7,510.6 1132.3,511.8 1132.9,512.1 1133.5,511.3 1134.1,509.5 1134.7,507 1135.3,502.7 1135.9,500.3 1136.5,501.1 1137.1,505 1137.7,510 1138.3,513.4 1138.9,513.4 1139.5,509.8 1140.1,504.3 1140.7,499.6 1141.3,498.3 1141.9,501.5 1142.5,507.8 1143.1,514.1 1143.7,516.8 1144.3,514.2 1144.9,507.3 1145.5,499.6 1146.1,495.1 1146.7,496.7 1147.3,503.7 1147.9,512.6 1148.5,518.8 1149.1,518.7 1149.7,512.2 1150.3,502.5 1150.9,494.9 1151.5,493.3 1152.1,498.7 1152.7,508.3 1153.3,517 1153.9,520.3 1154.5,516.4 1155.1,507.5 1155.7,498.2 1156.3,493.4 1156.9,495.5 1157.5,503.4 1158.1,512.9 1158.7,519 1159.3,518.5 1159.9,512 1160.5,502.9 1161.1,496.1 1161.7,495 1162.3,500 1162.9,508 1163.5,515 1164.1,517.4 1164.7,514.2 1165.3,507.3 1165.9,500.4 1166.5,497 1167.1,498.7 1167.7,504.4 1168.3,510.9 1168.9,514.7 1169.5,514.2 1170.1,509.9 1170.7,504.4 1171.3,500.5 1171.9,500.1 1172.5,502.9 1173.1,507.4 1173.7,511.1 1174.3,512.2 1174.9,510.5 1175.5,507 1176.1,503.6 1176.7,501.9 1177.3,502.6 1177.9,505.5 1178.5,509 1179.1,511.3 1179.7,511.2 1180.3,508.7 1180.9,505.1 1181.5,502.3 1182.1,501.7 1182.7,503.7 1183.3,507.3 1183.9,510.7 1184.5,512 1185.1,510.5 1185.7,507 1186.3,503.2 1186.9,501.2 1187.5,502 1188.1,505.3 1188.7,509.3 1189.3,512 1189.9,511.9 1190.5,509.1 1191.1,504.9 1191.7,501.4 1192.3,500.7 1192.9,503 1193.5,507.4 1194.1,511.5 1194.7,513.1 1195.3,511.4 1195.9,507.1 1196.5,502.4 1197.1,500 1197.7,501 1198.3,505 1198.9,509.9 1199.5,513.2 1200.1,513.1 1200.7,509.6 1201.3,504.5 1201.9,500.6 1202.5,499.8 1203.1,502.6 1203.7,507.5 1204.3,511.9 1204.9,513.5 1205.5,511.6 1206.1,507.1 1206.7,502.4 1207.3,500.1 1207.9,501.2 1208.5,505.1 1209.1,509.7 1209.7,512.6 1210.3,512.4 1210.9,509.2 1211.5,504.8 1212.1,501.5 1212.7,500.9 1213.3,503.3 1213.9,507.3 1214.5,510.8 1215.1,512 1215.7,510.4 1216.3,507 1216.9,503.5 1217.5,501.8 1218.1,502.6 1218.7,505.5 1219.3,508.8 1219.9,510.9 1220.5,510.7 1221.1,508.4 1221.7,505.4 1222.3,503.1 1222.9,502.7 1223.5,504.4 1224.1,507.1 1224.7,509.5 1225.3,510.4 1225.9,509.3 1226.5,506.9 1227.1,504.4 1227.7,503.1 1228.3,503.7 1228.9,505.8 1229.5,508.3 1230.1,510 1230.7,509.9 1231.3,508.1 1231.9,505.6 1232.5,503.6 1233.1,503.2 1233.7,504.6 1234.3,507.1 1234.9,509.5 1235.5,510.4 1236.1,509.4 1236.7,506.9 1237.3,504.2 1237.9,502.7 1238.5,503.2 1239.1,505.6 1239.7,508.7 1240.3,510.8 1240.9,510.8 1241.5,508.6 1242.1,505.2 1242.7,502.5 1243.3,501.9 1243.9,503.8 1244.5,507.3 1245.1,510.6 1245.7,511.9 1246.3,510.5 1246.9,507 1247.5,503.2 1248.1,501.1 1248.7,501.9 1249.3,505.2 1249.9,509.4 1250.5,512 1251.1,511.7 1251.7,508.8 1252.3,505.1 1252.9,502.6 1253.5,502.3 1254.1,504.3 1254.7,507.1 1255.3,509.3 1255.9,509.9 1256.5,508.9 1257.1,506.8 1257.7,504.6 1258.3,503.5 1258.9,504 1259.5,505.9 1260.1,508.2 1260.7,509.6 1261.3,509.6 1261.9,508 1262.5,505.7 1263.1,504 1263.7,503.7 1264.3,504.9 1264.9,507 1265.5,508.9 1266.1,509.6 1266.7,508.7 1267.3,506.8 1267.9,504.9 1268.5,504 1269.1,504.4 1269.7,506 1270.3,507.9 1270.9,509 1271.5,508.9 1272.1,507.7 1272.7,505.8 1273.3,504.2 1273.9,503.7 1274.5,504.8 1275.1,507.1 1275.7,509.3 1276.3,510.2 1276.9,509.3 1277.5,506.9 1278.1,504.2 1278.7,502.9 1279.3,503.6 1279.9,505.8 1280.5,508.3 1281.1,509.9 1281.7,509.8 1282.3,508 1282.9,505.7 1283.5,503.9 1284.1,503.6 1284.7,504.9 1285.3,507 1285.9,509 1286.5,509.7 1287.1,508.8 1287.7,506.8 1288.3,504.8 1288.9,503.7 1289.5,504.1 1290.1,505.9 1290.7,508.1 1291.3,509.6 1291.9,509.5 1292.5,508 1293.1,505.7 1293.7,503.8 1294.3,503.4 1294.9,504.7 1295.5,507.1 1296.1,509.3 1296.7,510.2 1297.3,509.3" fill="none" stroke="#cdcd00" stroke-width="2.3" stroke-linejoin="round" stroke-linecap="round"/>
<path d="M163.3,902.6v12M163.3,110.7v-12M179.5,902.6v6.2M179.5,110.7v-6.2M195.7,902.6v6.2M195.7,110.7v-6.2M211.9,902.6v6.2M211.9,110.7v-6.2M228.1,902.6v6.2M228.1,110.7v-6.2M244.3,902.6v6.2M244.3,110.7v-6.2M260.5,902.6v6.2M260.5,110.7v-6.2M276.7,902.6v6.2M276.7,110.7v-6.2M292.9,902.6v6.2M292.9,110.7v-6.2M309.1,902.6v6.2M309.1,110.7v-6.2M325.3,902.6v12M325.3,110.7v-12M341.5,902.6v6.2M341.5,110.7v-6.2M357.7,902.6v6.2M357.7,110.7v-6.2M373.9,902.6v6.2M373.9,110.7v-6.2M390.1,902.6v6.2M390.1,110.7v-6.2M406.3,902.6v6.2M406.3,110.7v-6.2M422.5,902.6v6.2M422.5,110.7v-6.2M438.7,902.6v6.2M438.7,110.7v-6.2M454.9,902.6v6.2M454.9,110.7v-6.2M471.1,902.6v6.2M471.1,110.7v-6.2M487.3,902.6v12M487.3,110.7v-12M503.5,902.6v6.2M503.5,110.7v-6.2M519.7,902.6v6.2M519.7,110.7v-6.2M535.9,902.6v6.2M535.9,110.7v-6.2M552.1,902.6v6.2M552.1,110.7v-6.2M568.3,902.6v6.2M568.3,110.7v-6.2M584.5,902.6v6.2M584.5,110.7v-6.2M600.7,902.6v6.2M600.7,110.7v-6.2M616.9,902.6v6.2M616.9,110.7v-6.2M633.1,902.6v6.2M633.1,110.7v-6.2M649.3,902.6v12M649.3,110.7v-12M665.5,902.6v6.2M665.5,110.7v-6.2M681.7,902.6v6.2M681.7,110.7v-6.2M697.9,902.6v6.2M697.9,110.7v-6.2M714.1,902.6v6.2M714.1,110.7v-6.2M730.3,902.6v6.2M730.3,110.7v-6.2M746.5,902.6v6.2M746.5,110.7v-6.2M762.7,902.6v6.2M762.7,110.7v-6.2M778.9,902.6v6.2M778.9,110.7v-6.2M795.1,902.6v6.2M795.1,110.7v-6.2M811.3,902.6v12M811.3,110.7v-12M827.5,902.6v6.2M827.5,110.7v-6.2M843.7,902.6v6.2M843.7,110.7v-6.2M859.9,902.6v6.2M859.9,110.7v-6.2M876.1,902.6v6.2M876.1,110.7v-6.2M892.3,902.6v6.2M892.3,110.7v-6.2M908.5,902.6v6.2M908.5,110.7v-6.2M924.7,902.6v6.2M924.7,110.7v-6.2M940.9,902.6v6.2M940.9,110.7v-6.2M957.1,902.6v6.2M957.1,110.7v-6.2M973.3,902.6v12M973.3,110.7v-12M989.5,902.6v6.2M989.5,110.7v-6.2M1005.7,902.6v6.2M1005.7,110.7v-6.2M1021.9,902.6v6.2M1021.9,110.7v-6.2M1038.1,902.6v6.2M1038.1,110.7v-6.2M1054.3,902.6v6.2M1054.3,110.7v-6.2M1070.5,902.6v6.2M1070.5,110.7v-6.2M1086.7,902.6v6.2M1086.7,110.7v-6.2M1102.9,902.6v6.2M1102.9,110.7v-6.2M1119.1,902.6v6.2M1119.1,110.7v-6.2M1135.4,902.6v12M1135.4,110.7v-12M1151.6,902.6v6.2M1151.6,110.7v-6.2M1167.8,902.6v6.2M1167.8,110.7v-6.2M1184,902.6v6.2M1184,110.7v-6.2M1200.2,902.6v6.2M1200.2,110.7v-6.2M1216.4,902.6v6.2M1216.4,110.7v-6.2M1232.6,902.6v6.2M1232.6,110.7v-6.2M1248.8,902.6v6.2M1248.8,110.7v-6.2M1265,902.6v6.2M1265,110.7v-6.2M1281.2,902.6v6.2M1281.2,110.7v-6.2M1297.4,902.6v12M1297.4,110.7v-12M1313.6,902.6v6.2M1313.6,110.7v-6.2M1329.8,902.6v6.2M1329.8,110.7v-6.2M1346,902.6v6.2M1346,110.7v-6.2M1362.2,902.6v6.2M1362.2,110.7v-6.2M1378.4,902.6v6.2M1378.4,110.7v-6.2M1394.6,902.6v6.2M1394.6,110.7v-6.2M1410.8,902.6v6.2M1410.8,110.7v-6.2M1427,902.6v6.2M1427,110.7v-6.2M1443.2,902.6v6.2M1443.2,110.7v-6.2M1459.4,902.6v12M1459.4,110.7v-12M163.3,902.6h-12M163.3,889.4h-6.2M163.3,876.2h-6.2M163.3,863h-6.2M163.3,849.8h-6.2M163.3,836.6h-6.2M163.3,823.4h-6.2M163.3,810.2h-6.2M163.3,797h-6.2M163.3,783.8h-6.2M163.3,770.6h-12M163.3,757.4h-6.2M163.3,744.2h-6.2M163.3,731h-6.2M163.3,717.8h-6.2M163.3,704.6h-6.2M163.3,691.4h-6.2M163.3,678.2h-6.2M163.3,665h-6.2M163.3,651.8h-6.2M163.3,638.6h-12M163.3,625.4h-6.2M163.3,612.2h-6.2M163.3,599h-6.2M163.3,585.8h-6.2M163.3,572.6h-6.2M163.3,559.4h-6.2M163.3,546.2h-6.2M163.3,533h-6.2M163.3,519.8h-6.2M163.3,506.6h-12M163.3,493.5h-6.2M163.3,480.3h-6.2M163.3,467.1h-6.2M163.3,453.9h-6.2M163.3,440.7h-6.2M163.3,427.5h-6.2M163.3,414.3h-6.2M163.3,401.1h-6.2M163.3,387.9h-6.2M163.3,374.7h-12M163.3,361.5h-6.2M163.3,348.3h-6.2M163.3,335.1h-6.2M163.3,321.9h-6.2M163.3,308.7h-6.2M163.3,295.5h-6.2M163.3,282.3h-6.2M163.3,269.1h-6.2M163.3,255.9h-6.2M163.3,242.7h-12M163.3,229.5h-6.2M163.3,216.3h-6.2M163.3,203.1h-6.2M163.3,189.9h-6.2M163.3,176.7h-6.2M163.3,163.5h-6.2M163.3,150.3h-6.2M163.3,137.1h-6.2M163.3,123.9h-6.2M163.3,110.7h-12M1459.4,458.5h6.2M1459.4,408.6h12M1459.4,358.6h6.2M1459.4,308.7h12M1459.4,258.7h6.2M1459.4,208.8h12M1459.4,158.8h6.2M1459.4,902.6h12M1459.4,889.4h6.2M1459.4,876.2h6.2M1459.4,863h6.2M1459.4,849.8h6.2M1459.4,836.6h12M1459.4,823.4h6.2M1459.4,810.2h6.2M1459.4,797h6.2M1459.4,783.8h6.2M1459.4,770.6h12M1459.4,757.4h6.2M1459.4,744.2h6.2M1459.4,731h6.2M1459.4,717.8h6.2M1459.4,704.6h12M1459.4,691.4h6.2M1459.4,678.2h6.2M1459.4,665h6.2M1459.4,651.8h6.2M1459.4,638.6h12M1459.4,625.4h6.2M1459.4,612.2h6.2M1459.4,599h6.2M1459.4,585.8h6.2M1459.4,572.6h12M1459.4,559.4h6.2M1459.4,546.2h6.2M1459.4,533h6.2M1459.4,519.8h6.2" stroke="#000" stroke-width="1.15" fill="none"/>
<rect x="163.3" y="110.7" width="1296.1" height="791.9" fill="none" stroke="#000" stroke-width="2.7"/>
<g stroke="#009696" stroke-width="1.2" fill="none"><path d="M325.3,309H1362.3"/><path d="M1346,110.7V506.6" stroke-width="1.1"/><path d="M1329.7,110.7H1362.3M1329.7,506.6H1362.3"/><path d="M1346,467.1h8M1346,427.5h8M1346,387.9h8M1346,348.3h8M1346,309h8M1346,269.1h8M1346,229.5h8M1346,189.9h8M1346,150.3h8"/></g>
<rect x="167" y="18.5" width="372.5" height="162.6" fill="#fff" stroke="#696969" stroke-width="1"/>
<path d="M203.9,39.7H260.3" stroke="#0000ff" stroke-width="0.9"/><circle cx="232.1" cy="39.7" r="4.4" fill="#0000ff"/>
<path d="M203.9,70.1H260.3" stroke="#00c8c8" stroke-width="0.9"/><circle cx="232.1" cy="70.1" r="4.4" fill="#00c8c8"/>
<path d="M203.9,100.5H260.3" stroke="#000" stroke-width="2.4"/>
<path d="M203.9,130.9H260.3" stroke="#bebebe" stroke-width="3.3"/>
<path d="M203.9,161.3H260.3" stroke="#ff0000" stroke-width="0.9"/><circle cx="232.1" cy="161.3" r="4.4" fill="#ff0000"/>
<text x="279.4" y="48.2" font-size="23.95">Pressure</text>
<text x="279.4" y="78.6" font-size="23.95">dP/dt low<tspan dy="1.92">−</tspan><tspan dy="-1.92">passed</tspan></text>
<text x="279.4" y="109" font-size="23.95">Residual</text>
<text x="279.4" y="139.4" font-size="23.95">... last 10 min.</text>
<text x="279.4" y="169.8" font-size="23.95">Theor.Tide</text>
<text x="559.5" y="82.1" font-size="32.6" font-weight="bold" textLength="871" lengthAdjust="spacingAndGlyphs">SCG_054 gravimeter Onsala Space Observatory, Sweden</text>
<text transform="translate(140.3,913.3) scale(1,1.055)" font-size="27.2" text-anchor="end"><tspan dy="2.18">−</tspan><tspan dy="-2.18">300</tspan></text>
<text transform="translate(140.3,781.3) scale(1,1.055)" font-size="27.2" text-anchor="end"><tspan dy="2.18">−</tspan><tspan dy="-2.18">200</tspan></text>
<text transform="translate(140.3,649.3) scale(1,1.055)" font-size="27.2" text-anchor="end"><tspan dy="2.18">−</tspan><tspan dy="-2.18">100</tspan></text>
<text transform="translate(140.3,517.4) scale(1,1.055)" font-size="27.2" text-anchor="end">0</text>
<text transform="translate(140.3,385.4) scale(1,1.055)" font-size="27.2" text-anchor="end">100</text>
<text transform="translate(140.3,253.4) scale(1,1.055)" font-size="27.2" text-anchor="end">200</text>
<text transform="translate(140.3,121.4) scale(1,1.055)" font-size="27.2" text-anchor="end">300</text>
<text transform="translate(163.3,946) scale(1,1.055)" font-size="27.2" text-anchor="middle"><tspan dy="2.18">−</tspan><tspan dy="-2.18">10</tspan></text>
<text transform="translate(325.3,946) scale(1,1.055)" font-size="27.2" text-anchor="middle">0</text>
<text transform="translate(487.3,946) scale(1,1.055)" font-size="27.2" text-anchor="middle">10</text>
<text transform="translate(649.3,946) scale(1,1.055)" font-size="27.2" text-anchor="middle">20</text>
<text transform="translate(811.3,946) scale(1,1.055)" font-size="27.2" text-anchor="middle">30</text>
<text transform="translate(973.3,946) scale(1,1.055)" font-size="27.2" text-anchor="middle">40</text>
<text transform="translate(1135.4,946) scale(1,1.055)" font-size="27.2" text-anchor="middle">50</text>
<text transform="translate(1297.4,946) scale(1,1.055)" font-size="27.2" text-anchor="middle">60</text>
<text transform="translate(1459.4,946) scale(1,1.055)" font-size="27.2" text-anchor="middle">70</text>
<text transform="translate(1543.5,418.8) scale(1,1.055)" font-size="27.2" text-anchor="end">1006</text>
<text transform="translate(1543.5,318.9) scale(1,1.055)" font-size="27.2" text-anchor="end">1008</text>
<text transform="translate(1543.5,219) scale(1,1.055)" font-size="27.2" text-anchor="end">1010</text>
<text transform="translate(1560.6,912.8) scale(1,1.055)" font-size="27.2" text-anchor="end"><tspan dy="2.18">−</tspan><tspan dy="-2.18">1500</tspan></text>
<text transform="translate(1560.6,846.8) scale(1,1.055)" font-size="27.2" text-anchor="end"><tspan dy="2.18">−</tspan><tspan dy="-2.18">1000</tspan></text>
<text transform="translate(1560.6,780.8) scale(1,1.055)" font-size="27.2" text-anchor="end"><tspan dy="2.18">−</tspan><tspan dy="-2.18">500</tspan></text>
<text transform="translate(1560.6,714.8) scale(1,1.055)" font-size="27.2" text-anchor="end">0</text>
<text transform="translate(1560.6,648.8) scale(1,1.055)" font-size="27.2" text-anchor="end">500</text>
<text transform="translate(1560.6,582.8) scale(1,1.055)" font-size="27.2" text-anchor="end">1000</text>
<text x="810.5" y="999.3" font-size="35.8" text-anchor="middle">Time [min] from 2021<tspan dy="2.86">−</tspan><tspan dy="-2.86">06</tspan><tspan dy="2.86">−</tspan><tspan dy="-2.86">11 21:59:00 UTC</tspan></text>
<text transform="translate(49.2,506) rotate(-90)" font-size="35.8" text-anchor="middle">Obs’d Gravity [nm/s<tspan font-size="24.9" dy="-12.2">2</tspan><tspan dy="12.2">]</tspan></text>
<text transform="translate(1600,308.8) rotate(-90)" font-size="35.8" text-anchor="middle">Pressure [hPa]</text>
<text transform="translate(1614.6,704.3) rotate(-90)" font-size="35.8" text-anchor="middle">Tide [nm/s<tspan font-size="24.9" dy="-12.2">2</tspan><tspan dy="12.2">]</tspan></text>
<text transform="translate(244.6,506.5) rotate(-90)" font-size="23.95" text-anchor="middle">Typical noise level</text>
<text transform="translate(1386.3,307) rotate(-90)" font-size="23.95" text-anchor="middle">1 DIV = 0.5 hPa/h</text>
<text transform="translate(1427.6,309.4) rotate(-90)" font-size="23.8" text-anchor="middle">average = <tspan dy="1.90">−</tspan><tspan dy="-1.90">0.3408</tspan></text>
</svg></body></html>
